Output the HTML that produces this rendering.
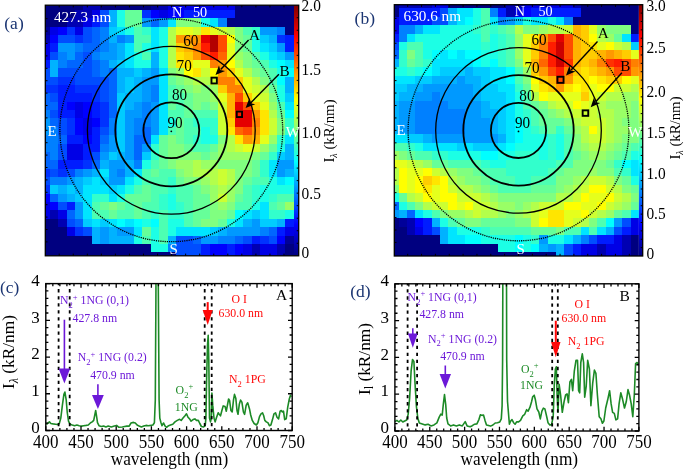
<!DOCTYPE html><html><head><meta charset="utf-8"><style>html,body{margin:0;padding:0;background:#fff;width:685px;height:471px;overflow:hidden}svg{display:block}</style></head><body>
<svg style="will-change:transform" width="685" height="471" viewBox="0 0 685 471" font-family="'Liberation Serif', serif">
<defs>
<filter id="hb" x="-5%" y="-5%" width="110%" height="110%"><feGaussianBlur stdDeviation="0.6"/></filter>
<clipPath id="ca"><rect x="45.3" y="5.2" width="248.7" height="250.6"/></clipPath>
<clipPath id="cb"><rect x="394.3" y="4.7" width="244.6" height="251.3"/></clipPath>
<linearGradient id="cbg" x1="0" y1="0" x2="0" y2="1"><stop offset="0.000" stop-color="#800000"/><stop offset="0.025" stop-color="#990000"/><stop offset="0.050" stop-color="#b30000"/><stop offset="0.075" stop-color="#cc0000"/><stop offset="0.100" stop-color="#e50000"/><stop offset="0.125" stop-color="#ff0000"/><stop offset="0.150" stop-color="#ff1a00"/><stop offset="0.175" stop-color="#ff3300"/><stop offset="0.200" stop-color="#ff4c00"/><stop offset="0.225" stop-color="#ff6600"/><stop offset="0.250" stop-color="#ff8000"/><stop offset="0.275" stop-color="#ff9900"/><stop offset="0.300" stop-color="#ffb300"/><stop offset="0.325" stop-color="#ffcc00"/><stop offset="0.350" stop-color="#ffe500"/><stop offset="0.375" stop-color="#ffff00"/><stop offset="0.400" stop-color="#e5ff1a"/><stop offset="0.425" stop-color="#ccff33"/><stop offset="0.450" stop-color="#b3ff4c"/><stop offset="0.475" stop-color="#99ff66"/><stop offset="0.500" stop-color="#80ff80"/><stop offset="0.525" stop-color="#66ff99"/><stop offset="0.550" stop-color="#4dffb2"/><stop offset="0.575" stop-color="#33ffcc"/><stop offset="0.600" stop-color="#1affe5"/><stop offset="0.625" stop-color="#00ffff"/><stop offset="0.650" stop-color="#00e5ff"/><stop offset="0.675" stop-color="#00ccff"/><stop offset="0.700" stop-color="#00b2ff"/><stop offset="0.725" stop-color="#0099ff"/><stop offset="0.750" stop-color="#0080ff"/><stop offset="0.775" stop-color="#0066ff"/><stop offset="0.800" stop-color="#004dff"/><stop offset="0.825" stop-color="#0033ff"/><stop offset="0.850" stop-color="#001aff"/><stop offset="0.875" stop-color="#0000ff"/><stop offset="0.900" stop-color="#0000e6"/><stop offset="0.925" stop-color="#0000cc"/><stop offset="0.950" stop-color="#0000b2"/><stop offset="0.975" stop-color="#000099"/><stop offset="1.000" stop-color="#000080"/></linearGradient>
<clipPath id="cc"><rect x="45.8" y="283.8" width="245.9" height="146.7"/></clipPath>
<clipPath id="cd"><rect x="394.2" y="283.8" width="244.5" height="145.4"/></clipPath>
</defs>
<g clip-path="url(#ca)"><g filter="url(#hb)" shape-rendering="crispEdges">
<rect x="41.28" y="1.42" width="42.50" height="8.76" fill="#000080"/>
<rect x="83.38" y="1.42" width="17.24" height="8.76" fill="#0000b2"/>
<rect x="100.22" y="1.42" width="50.92" height="8.76" fill="#000080"/>
<rect x="150.74" y="1.42" width="8.82" height="8.76" fill="#000099"/>
<rect x="159.16" y="1.42" width="8.82" height="8.76" fill="#0000b2"/>
<rect x="167.58" y="1.42" width="67.76" height="8.76" fill="#0000e6"/>
<rect x="234.94" y="1.42" width="62.34" height="8.76" fill="#000080"/>
<rect x="41.28" y="9.78" width="34.08" height="8.76" fill="#000080"/>
<rect x="74.96" y="9.78" width="17.24" height="8.76" fill="#0000b2"/>
<rect x="91.80" y="9.78" width="8.82" height="8.76" fill="#0000e6"/>
<rect x="100.22" y="9.78" width="8.82" height="8.76" fill="#004dff"/>
<rect x="108.64" y="9.78" width="8.82" height="8.76" fill="#00b2ff"/>
<rect x="117.06" y="9.78" width="8.82" height="8.76" fill="#1affe5"/>
<rect x="125.48" y="9.78" width="17.24" height="8.76" fill="#66ff99"/>
<rect x="142.32" y="9.78" width="8.82" height="8.76" fill="#0033ff"/>
<rect x="150.74" y="9.78" width="8.82" height="8.76" fill="#0000ff"/>
<rect x="159.16" y="9.78" width="8.82" height="8.76" fill="#0000e6"/>
<rect x="167.58" y="9.78" width="17.24" height="8.76" fill="#0000ff"/>
<rect x="184.42" y="9.78" width="50.92" height="8.76" fill="#001aff"/>
<rect x="234.94" y="9.78" width="62.34" height="8.76" fill="#000080"/>
<rect x="41.28" y="18.14" width="25.66" height="8.76" fill="#000080"/>
<rect x="66.54" y="18.14" width="17.24" height="8.76" fill="#0000b2"/>
<rect x="83.38" y="18.14" width="8.82" height="8.76" fill="#0000e6"/>
<rect x="91.80" y="18.14" width="8.82" height="8.76" fill="#001aff"/>
<rect x="100.22" y="18.14" width="8.82" height="8.76" fill="#004dff"/>
<rect x="108.64" y="18.14" width="8.82" height="8.76" fill="#00b2ff"/>
<rect x="117.06" y="18.14" width="8.82" height="8.76" fill="#1affe5"/>
<rect x="125.48" y="18.14" width="17.24" height="8.76" fill="#66ff99"/>
<rect x="142.32" y="18.14" width="8.82" height="8.76" fill="#0099ff"/>
<rect x="150.74" y="18.14" width="8.82" height="8.76" fill="#0066ff"/>
<rect x="159.16" y="18.14" width="8.82" height="8.76" fill="#0099ff"/>
<rect x="167.58" y="18.14" width="8.82" height="8.76" fill="#00e5ff"/>
<rect x="176.00" y="18.14" width="25.66" height="8.76" fill="#80ff80"/>
<rect x="201.26" y="18.14" width="8.82" height="8.76" fill="#1affe5"/>
<rect x="209.68" y="18.14" width="8.82" height="8.76" fill="#00e5ff"/>
<rect x="218.10" y="18.14" width="8.82" height="8.76" fill="#0080ff"/>
<rect x="226.52" y="18.14" width="70.76" height="8.76" fill="#000080"/>
<rect x="41.28" y="26.50" width="8.82" height="8.76" fill="#000099"/>
<rect x="49.70" y="26.50" width="8.82" height="8.76" fill="#0000e6"/>
<rect x="58.12" y="26.50" width="8.82" height="8.76" fill="#0000ff"/>
<rect x="66.54" y="26.50" width="8.82" height="8.76" fill="#0033ff"/>
<rect x="74.96" y="26.50" width="8.82" height="8.76" fill="#0000e6"/>
<rect x="83.38" y="26.50" width="8.82" height="8.76" fill="#004dff"/>
<rect x="91.80" y="26.50" width="8.82" height="8.76" fill="#0066ff"/>
<rect x="100.22" y="26.50" width="8.82" height="8.76" fill="#0080ff"/>
<rect x="108.64" y="26.50" width="8.82" height="8.76" fill="#00ccff"/>
<rect x="117.06" y="26.50" width="8.82" height="8.76" fill="#00e5ff"/>
<rect x="125.48" y="26.50" width="8.82" height="8.76" fill="#1affe5"/>
<rect x="133.90" y="26.50" width="8.82" height="8.76" fill="#4dffb2"/>
<rect x="142.32" y="26.50" width="8.82" height="8.76" fill="#33ffcc"/>
<rect x="150.74" y="26.50" width="8.82" height="8.76" fill="#00e5ff"/>
<rect x="159.16" y="26.50" width="8.82" height="8.76" fill="#1affe5"/>
<rect x="167.58" y="26.50" width="8.82" height="8.76" fill="#b3ff4c"/>
<rect x="176.00" y="26.50" width="17.24" height="8.76" fill="#e5ff1a"/>
<rect x="192.84" y="26.50" width="8.82" height="8.76" fill="#ccff33"/>
<rect x="201.26" y="26.50" width="8.82" height="8.76" fill="#ffe500"/>
<rect x="209.68" y="26.50" width="8.82" height="8.76" fill="#e5ff1a"/>
<rect x="218.10" y="26.50" width="8.82" height="8.76" fill="#ccff33"/>
<rect x="226.52" y="26.50" width="8.82" height="8.76" fill="#b3ff4c"/>
<rect x="234.94" y="26.50" width="8.82" height="8.76" fill="#80ff80"/>
<rect x="243.36" y="26.50" width="8.82" height="8.76" fill="#4dffb2"/>
<rect x="251.78" y="26.50" width="8.82" height="8.76" fill="#33ffcc"/>
<rect x="260.20" y="26.50" width="17.24" height="8.76" fill="#0099ff"/>
<rect x="277.04" y="26.50" width="8.82" height="8.76" fill="#0080ff"/>
<rect x="285.46" y="26.50" width="11.82" height="8.76" fill="#000080"/>
<rect x="41.28" y="34.86" width="8.82" height="8.76" fill="#0000b2"/>
<rect x="49.70" y="34.86" width="8.82" height="8.76" fill="#0000ff"/>
<rect x="58.12" y="34.86" width="17.24" height="8.76" fill="#004dff"/>
<rect x="74.96" y="34.86" width="8.82" height="8.76" fill="#0033ff"/>
<rect x="83.38" y="34.86" width="8.82" height="8.76" fill="#004dff"/>
<rect x="91.80" y="34.86" width="8.82" height="8.76" fill="#0066ff"/>
<rect x="100.22" y="34.86" width="8.82" height="8.76" fill="#0080ff"/>
<rect x="108.64" y="34.86" width="8.82" height="8.76" fill="#00b2ff"/>
<rect x="117.06" y="34.86" width="8.82" height="8.76" fill="#0080ff"/>
<rect x="125.48" y="34.86" width="8.82" height="8.76" fill="#0099ff"/>
<rect x="133.90" y="34.86" width="17.24" height="8.76" fill="#4dffb2"/>
<rect x="150.74" y="34.86" width="8.82" height="8.76" fill="#00e5ff"/>
<rect x="159.16" y="34.86" width="8.82" height="8.76" fill="#1affe5"/>
<rect x="167.58" y="34.86" width="8.82" height="8.76" fill="#b3ff4c"/>
<rect x="176.00" y="34.86" width="25.66" height="8.76" fill="#ff9900"/>
<rect x="201.26" y="34.86" width="8.82" height="8.76" fill="#e50000"/>
<rect x="209.68" y="34.86" width="8.82" height="8.76" fill="#b30000"/>
<rect x="218.10" y="34.86" width="8.82" height="8.76" fill="#ff4c00"/>
<rect x="226.52" y="34.86" width="8.82" height="8.76" fill="#ffff00"/>
<rect x="234.94" y="34.86" width="8.82" height="8.76" fill="#80ff80"/>
<rect x="243.36" y="34.86" width="8.82" height="8.76" fill="#66ff99"/>
<rect x="251.78" y="34.86" width="8.82" height="8.76" fill="#1affe5"/>
<rect x="260.20" y="34.86" width="8.82" height="8.76" fill="#00ccff"/>
<rect x="268.62" y="34.86" width="8.82" height="8.76" fill="#00b2ff"/>
<rect x="277.04" y="34.86" width="8.82" height="8.76" fill="#0033ff"/>
<rect x="285.46" y="34.86" width="11.82" height="8.76" fill="#001aff"/>
<rect x="41.28" y="43.22" width="8.82" height="8.76" fill="#0000e6"/>
<rect x="49.70" y="43.22" width="8.82" height="8.76" fill="#001aff"/>
<rect x="58.12" y="43.22" width="17.24" height="8.76" fill="#0099ff"/>
<rect x="74.96" y="43.22" width="8.82" height="8.76" fill="#0080ff"/>
<rect x="83.38" y="43.22" width="17.24" height="8.76" fill="#0066ff"/>
<rect x="100.22" y="43.22" width="8.82" height="8.76" fill="#0080ff"/>
<rect x="108.64" y="43.22" width="8.82" height="8.76" fill="#0099ff"/>
<rect x="117.06" y="43.22" width="8.82" height="8.76" fill="#00b2ff"/>
<rect x="125.48" y="43.22" width="8.82" height="8.76" fill="#00e5ff"/>
<rect x="133.90" y="43.22" width="8.82" height="8.76" fill="#4dffb2"/>
<rect x="142.32" y="43.22" width="8.82" height="8.76" fill="#1affe5"/>
<rect x="150.74" y="43.22" width="8.82" height="8.76" fill="#00e5ff"/>
<rect x="159.16" y="43.22" width="8.82" height="8.76" fill="#1affe5"/>
<rect x="167.58" y="43.22" width="8.82" height="8.76" fill="#b3ff4c"/>
<rect x="176.00" y="43.22" width="8.82" height="8.76" fill="#ffcc00"/>
<rect x="184.42" y="43.22" width="8.82" height="8.76" fill="#ffb300"/>
<rect x="192.84" y="43.22" width="8.82" height="8.76" fill="#ff8000"/>
<rect x="201.26" y="43.22" width="8.82" height="8.76" fill="#ff1a00"/>
<rect x="209.68" y="43.22" width="8.82" height="8.76" fill="#b30000"/>
<rect x="218.10" y="43.22" width="8.82" height="8.76" fill="#ff4c00"/>
<rect x="226.52" y="43.22" width="8.82" height="8.76" fill="#e5ff1a"/>
<rect x="234.94" y="43.22" width="8.82" height="8.76" fill="#80ff80"/>
<rect x="243.36" y="43.22" width="8.82" height="8.76" fill="#66ff99"/>
<rect x="251.78" y="43.22" width="8.82" height="8.76" fill="#1affe5"/>
<rect x="260.20" y="43.22" width="8.82" height="8.76" fill="#00e5ff"/>
<rect x="268.62" y="43.22" width="8.82" height="8.76" fill="#00ccff"/>
<rect x="277.04" y="43.22" width="8.82" height="8.76" fill="#0099ff"/>
<rect x="285.46" y="43.22" width="11.82" height="8.76" fill="#001aff"/>
<rect x="41.28" y="51.58" width="8.82" height="8.76" fill="#0000e6"/>
<rect x="49.70" y="51.58" width="8.82" height="8.76" fill="#004dff"/>
<rect x="58.12" y="51.58" width="8.82" height="8.76" fill="#0080ff"/>
<rect x="66.54" y="51.58" width="8.82" height="8.76" fill="#0099ff"/>
<rect x="74.96" y="51.58" width="8.82" height="8.76" fill="#0066ff"/>
<rect x="83.38" y="51.58" width="8.82" height="8.76" fill="#004dff"/>
<rect x="91.80" y="51.58" width="8.82" height="8.76" fill="#0080ff"/>
<rect x="100.22" y="51.58" width="17.24" height="8.76" fill="#0099ff"/>
<rect x="117.06" y="51.58" width="8.82" height="8.76" fill="#00b2ff"/>
<rect x="125.48" y="51.58" width="8.82" height="8.76" fill="#00e5ff"/>
<rect x="133.90" y="51.58" width="8.82" height="8.76" fill="#1affe5"/>
<rect x="142.32" y="51.58" width="8.82" height="8.76" fill="#4dffb2"/>
<rect x="150.74" y="51.58" width="8.82" height="8.76" fill="#00b2ff"/>
<rect x="159.16" y="51.58" width="8.82" height="8.76" fill="#1affe5"/>
<rect x="167.58" y="51.58" width="8.82" height="8.76" fill="#b3ff4c"/>
<rect x="176.00" y="51.58" width="8.82" height="8.76" fill="#ffe500"/>
<rect x="184.42" y="51.58" width="8.82" height="8.76" fill="#ffcc00"/>
<rect x="192.84" y="51.58" width="8.82" height="8.76" fill="#ff9900"/>
<rect x="201.26" y="51.58" width="8.82" height="8.76" fill="#ff4c00"/>
<rect x="209.68" y="51.58" width="8.82" height="8.76" fill="#ff1a00"/>
<rect x="218.10" y="51.58" width="8.82" height="8.76" fill="#ff6600"/>
<rect x="226.52" y="51.58" width="8.82" height="8.76" fill="#e5ff1a"/>
<rect x="234.94" y="51.58" width="8.82" height="8.76" fill="#99ff66"/>
<rect x="243.36" y="51.58" width="8.82" height="8.76" fill="#80ff80"/>
<rect x="251.78" y="51.58" width="8.82" height="8.76" fill="#4dffb2"/>
<rect x="260.20" y="51.58" width="8.82" height="8.76" fill="#1affe5"/>
<rect x="268.62" y="51.58" width="8.82" height="8.76" fill="#00e5ff"/>
<rect x="277.04" y="51.58" width="8.82" height="8.76" fill="#00ccff"/>
<rect x="285.46" y="51.58" width="11.82" height="8.76" fill="#0099ff"/>
<rect x="41.28" y="59.94" width="8.82" height="8.76" fill="#001aff"/>
<rect x="49.70" y="59.94" width="8.82" height="8.76" fill="#00b2ff"/>
<rect x="58.12" y="59.94" width="8.82" height="8.76" fill="#0080ff"/>
<rect x="66.54" y="59.94" width="17.24" height="8.76" fill="#0066ff"/>
<rect x="83.38" y="59.94" width="8.82" height="8.76" fill="#004dff"/>
<rect x="91.80" y="59.94" width="8.82" height="8.76" fill="#0066ff"/>
<rect x="100.22" y="59.94" width="8.82" height="8.76" fill="#0080ff"/>
<rect x="108.64" y="59.94" width="8.82" height="8.76" fill="#00b2ff"/>
<rect x="117.06" y="59.94" width="8.82" height="8.76" fill="#00ccff"/>
<rect x="125.48" y="59.94" width="8.82" height="8.76" fill="#00e5ff"/>
<rect x="133.90" y="59.94" width="17.24" height="8.76" fill="#1affe5"/>
<rect x="150.74" y="59.94" width="8.82" height="8.76" fill="#00b2ff"/>
<rect x="159.16" y="59.94" width="8.82" height="8.76" fill="#1affe5"/>
<rect x="167.58" y="59.94" width="8.82" height="8.76" fill="#b3ff4c"/>
<rect x="176.00" y="59.94" width="17.24" height="8.76" fill="#ffe500"/>
<rect x="192.84" y="59.94" width="17.24" height="8.76" fill="#e5ff1a"/>
<rect x="209.68" y="59.94" width="8.82" height="8.76" fill="#ff8000"/>
<rect x="218.10" y="59.94" width="8.82" height="8.76" fill="#ff9900"/>
<rect x="226.52" y="59.94" width="8.82" height="8.76" fill="#ffff00"/>
<rect x="234.94" y="59.94" width="8.82" height="8.76" fill="#b3ff4c"/>
<rect x="243.36" y="59.94" width="8.82" height="8.76" fill="#80ff80"/>
<rect x="251.78" y="59.94" width="8.82" height="8.76" fill="#66ff99"/>
<rect x="260.20" y="59.94" width="8.82" height="8.76" fill="#4dffb2"/>
<rect x="268.62" y="59.94" width="8.82" height="8.76" fill="#1affe5"/>
<rect x="277.04" y="59.94" width="8.82" height="8.76" fill="#00ffff"/>
<rect x="285.46" y="59.94" width="11.82" height="8.76" fill="#00e5ff"/>
<rect x="41.28" y="68.30" width="8.82" height="8.76" fill="#004dff"/>
<rect x="49.70" y="68.30" width="8.82" height="8.76" fill="#00b2ff"/>
<rect x="58.12" y="68.30" width="34.08" height="8.76" fill="#004dff"/>
<rect x="91.80" y="68.30" width="8.82" height="8.76" fill="#0066ff"/>
<rect x="100.22" y="68.30" width="8.82" height="8.76" fill="#0080ff"/>
<rect x="108.64" y="68.30" width="8.82" height="8.76" fill="#0066ff"/>
<rect x="117.06" y="68.30" width="17.24" height="8.76" fill="#00b2ff"/>
<rect x="133.90" y="68.30" width="8.82" height="8.76" fill="#00ccff"/>
<rect x="142.32" y="68.30" width="8.82" height="8.76" fill="#00b2ff"/>
<rect x="150.74" y="68.30" width="8.82" height="8.76" fill="#0099ff"/>
<rect x="159.16" y="68.30" width="8.82" height="8.76" fill="#00e5ff"/>
<rect x="167.58" y="68.30" width="8.82" height="8.76" fill="#80ff80"/>
<rect x="176.00" y="68.30" width="8.82" height="8.76" fill="#99ff66"/>
<rect x="184.42" y="68.30" width="8.82" height="8.76" fill="#ffff00"/>
<rect x="192.84" y="68.30" width="8.82" height="8.76" fill="#ffe500"/>
<rect x="201.26" y="68.30" width="8.82" height="8.76" fill="#ccff33"/>
<rect x="209.68" y="68.30" width="8.82" height="8.76" fill="#ffff00"/>
<rect x="218.10" y="68.30" width="8.82" height="8.76" fill="#ff9900"/>
<rect x="226.52" y="68.30" width="8.82" height="8.76" fill="#ffcc00"/>
<rect x="234.94" y="68.30" width="8.82" height="8.76" fill="#e5ff1a"/>
<rect x="243.36" y="68.30" width="8.82" height="8.76" fill="#b3ff4c"/>
<rect x="251.78" y="68.30" width="8.82" height="8.76" fill="#80ff80"/>
<rect x="260.20" y="68.30" width="8.82" height="8.76" fill="#66ff99"/>
<rect x="268.62" y="68.30" width="8.82" height="8.76" fill="#4dffb2"/>
<rect x="277.04" y="68.30" width="8.82" height="8.76" fill="#1affe5"/>
<rect x="285.46" y="68.30" width="11.82" height="8.76" fill="#00ffff"/>
<rect x="41.28" y="76.66" width="17.24" height="8.76" fill="#004dff"/>
<rect x="58.12" y="76.66" width="17.24" height="8.76" fill="#0033ff"/>
<rect x="74.96" y="76.66" width="34.08" height="8.76" fill="#004dff"/>
<rect x="108.64" y="76.66" width="8.82" height="8.76" fill="#0066ff"/>
<rect x="117.06" y="76.66" width="8.82" height="8.76" fill="#00b2ff"/>
<rect x="125.48" y="76.66" width="8.82" height="8.76" fill="#00ccff"/>
<rect x="133.90" y="76.66" width="8.82" height="8.76" fill="#00b2ff"/>
<rect x="142.32" y="76.66" width="17.24" height="8.76" fill="#0099ff"/>
<rect x="159.16" y="76.66" width="8.82" height="8.76" fill="#00e5ff"/>
<rect x="167.58" y="76.66" width="8.82" height="8.76" fill="#66ff99"/>
<rect x="176.00" y="76.66" width="8.82" height="8.76" fill="#80ff80"/>
<rect x="184.42" y="76.66" width="8.82" height="8.76" fill="#99ff66"/>
<rect x="192.84" y="76.66" width="17.24" height="8.76" fill="#b3ff4c"/>
<rect x="209.68" y="76.66" width="8.82" height="8.76" fill="#ccff33"/>
<rect x="218.10" y="76.66" width="17.24" height="8.76" fill="#ff8000"/>
<rect x="234.94" y="76.66" width="8.82" height="8.76" fill="#ffcc00"/>
<rect x="243.36" y="76.66" width="8.82" height="8.76" fill="#e5ff1a"/>
<rect x="251.78" y="76.66" width="8.82" height="8.76" fill="#b3ff4c"/>
<rect x="260.20" y="76.66" width="8.82" height="8.76" fill="#80ff80"/>
<rect x="268.62" y="76.66" width="8.82" height="8.76" fill="#4dffb2"/>
<rect x="277.04" y="76.66" width="8.82" height="8.76" fill="#00ffff"/>
<rect x="285.46" y="76.66" width="11.82" height="8.76" fill="#00b2ff"/>
<rect x="41.28" y="85.02" width="17.24" height="8.76" fill="#0033ff"/>
<rect x="58.12" y="85.02" width="17.24" height="8.76" fill="#001aff"/>
<rect x="74.96" y="85.02" width="25.66" height="8.76" fill="#0033ff"/>
<rect x="100.22" y="85.02" width="8.82" height="8.76" fill="#004dff"/>
<rect x="108.64" y="85.02" width="8.82" height="8.76" fill="#0066ff"/>
<rect x="117.06" y="85.02" width="8.82" height="8.76" fill="#00b2ff"/>
<rect x="125.48" y="85.02" width="8.82" height="8.76" fill="#00ccff"/>
<rect x="133.90" y="85.02" width="8.82" height="8.76" fill="#00b2ff"/>
<rect x="142.32" y="85.02" width="8.82" height="8.76" fill="#0099ff"/>
<rect x="150.74" y="85.02" width="8.82" height="8.76" fill="#0080ff"/>
<rect x="159.16" y="85.02" width="8.82" height="8.76" fill="#00e5ff"/>
<rect x="167.58" y="85.02" width="8.82" height="8.76" fill="#4dffb2"/>
<rect x="176.00" y="85.02" width="8.82" height="8.76" fill="#66ff99"/>
<rect x="184.42" y="85.02" width="8.82" height="8.76" fill="#80ff80"/>
<rect x="192.84" y="85.02" width="8.82" height="8.76" fill="#99ff66"/>
<rect x="201.26" y="85.02" width="8.82" height="8.76" fill="#80ff80"/>
<rect x="209.68" y="85.02" width="8.82" height="8.76" fill="#99ff66"/>
<rect x="218.10" y="85.02" width="8.82" height="8.76" fill="#ffcc00"/>
<rect x="226.52" y="85.02" width="17.24" height="8.76" fill="#ff8000"/>
<rect x="243.36" y="85.02" width="8.82" height="8.76" fill="#e5ff1a"/>
<rect x="251.78" y="85.02" width="8.82" height="8.76" fill="#ccff33"/>
<rect x="260.20" y="85.02" width="8.82" height="8.76" fill="#b3ff4c"/>
<rect x="268.62" y="85.02" width="8.82" height="8.76" fill="#66ff99"/>
<rect x="277.04" y="85.02" width="8.82" height="8.76" fill="#1affe5"/>
<rect x="285.46" y="85.02" width="11.82" height="8.76" fill="#00b2ff"/>
<rect x="41.28" y="93.38" width="8.82" height="8.76" fill="#0066ff"/>
<rect x="49.70" y="93.38" width="8.82" height="8.76" fill="#004dff"/>
<rect x="58.12" y="93.38" width="34.08" height="8.76" fill="#001aff"/>
<rect x="91.80" y="93.38" width="8.82" height="8.76" fill="#0033ff"/>
<rect x="100.22" y="93.38" width="8.82" height="8.76" fill="#004dff"/>
<rect x="108.64" y="93.38" width="8.82" height="8.76" fill="#0066ff"/>
<rect x="117.06" y="93.38" width="8.82" height="8.76" fill="#00ccff"/>
<rect x="125.48" y="93.38" width="17.24" height="8.76" fill="#00b2ff"/>
<rect x="142.32" y="93.38" width="8.82" height="8.76" fill="#0099ff"/>
<rect x="150.74" y="93.38" width="8.82" height="8.76" fill="#0080ff"/>
<rect x="159.16" y="93.38" width="8.82" height="8.76" fill="#00e5ff"/>
<rect x="167.58" y="93.38" width="17.24" height="8.76" fill="#4dffb2"/>
<rect x="184.42" y="93.38" width="8.82" height="8.76" fill="#66ff99"/>
<rect x="192.84" y="93.38" width="17.24" height="8.76" fill="#80ff80"/>
<rect x="209.68" y="93.38" width="8.82" height="8.76" fill="#99ff66"/>
<rect x="218.10" y="93.38" width="8.82" height="8.76" fill="#e5ff1a"/>
<rect x="226.52" y="93.38" width="8.82" height="8.76" fill="#ffb300"/>
<rect x="234.94" y="93.38" width="8.82" height="8.76" fill="#ff4c00"/>
<rect x="243.36" y="93.38" width="8.82" height="8.76" fill="#ffcc00"/>
<rect x="251.78" y="93.38" width="8.82" height="8.76" fill="#e5ff1a"/>
<rect x="260.20" y="93.38" width="8.82" height="8.76" fill="#ccff33"/>
<rect x="268.62" y="93.38" width="8.82" height="8.76" fill="#80ff80"/>
<rect x="277.04" y="93.38" width="8.82" height="8.76" fill="#1affe5"/>
<rect x="285.46" y="93.38" width="11.82" height="8.76" fill="#00ccff"/>
<rect x="41.28" y="101.74" width="17.24" height="8.76" fill="#0066ff"/>
<rect x="58.12" y="101.74" width="8.82" height="8.76" fill="#001aff"/>
<rect x="66.54" y="101.74" width="8.82" height="8.76" fill="#0000ff"/>
<rect x="74.96" y="101.74" width="8.82" height="8.76" fill="#0000e6"/>
<rect x="83.38" y="101.74" width="8.82" height="8.76" fill="#0000ff"/>
<rect x="91.80" y="101.74" width="8.82" height="8.76" fill="#001aff"/>
<rect x="100.22" y="101.74" width="8.82" height="8.76" fill="#0033ff"/>
<rect x="108.64" y="101.74" width="8.82" height="8.76" fill="#0066ff"/>
<rect x="117.06" y="101.74" width="8.82" height="8.76" fill="#00ccff"/>
<rect x="125.48" y="101.74" width="8.82" height="8.76" fill="#00b2ff"/>
<rect x="133.90" y="101.74" width="8.82" height="8.76" fill="#0099ff"/>
<rect x="142.32" y="101.74" width="8.82" height="8.76" fill="#0080ff"/>
<rect x="150.74" y="101.74" width="8.82" height="8.76" fill="#0099ff"/>
<rect x="159.16" y="101.74" width="8.82" height="8.76" fill="#00e5ff"/>
<rect x="167.58" y="101.74" width="8.82" height="8.76" fill="#66ff99"/>
<rect x="176.00" y="101.74" width="8.82" height="8.76" fill="#4dffb2"/>
<rect x="184.42" y="101.74" width="8.82" height="8.76" fill="#66ff99"/>
<rect x="192.84" y="101.74" width="8.82" height="8.76" fill="#80ff80"/>
<rect x="201.26" y="101.74" width="8.82" height="8.76" fill="#66ff99"/>
<rect x="209.68" y="101.74" width="8.82" height="8.76" fill="#80ff80"/>
<rect x="218.10" y="101.74" width="8.82" height="8.76" fill="#ccff33"/>
<rect x="226.52" y="101.74" width="8.82" height="8.76" fill="#ffb300"/>
<rect x="234.94" y="101.74" width="8.82" height="8.76" fill="#e50000"/>
<rect x="243.36" y="101.74" width="8.82" height="8.76" fill="#ff4c00"/>
<rect x="251.78" y="101.74" width="8.82" height="8.76" fill="#ffcc00"/>
<rect x="260.20" y="101.74" width="8.82" height="8.76" fill="#e5ff1a"/>
<rect x="268.62" y="101.74" width="8.82" height="8.76" fill="#99ff66"/>
<rect x="277.04" y="101.74" width="8.82" height="8.76" fill="#4dffb2"/>
<rect x="285.46" y="101.74" width="11.82" height="8.76" fill="#00e5ff"/>
<rect x="41.28" y="110.10" width="8.82" height="8.76" fill="#0080ff"/>
<rect x="49.70" y="110.10" width="8.82" height="8.76" fill="#004dff"/>
<rect x="58.12" y="110.10" width="17.24" height="8.76" fill="#001aff"/>
<rect x="74.96" y="110.10" width="8.82" height="8.76" fill="#0000e6"/>
<rect x="83.38" y="110.10" width="8.82" height="8.76" fill="#0000ff"/>
<rect x="91.80" y="110.10" width="8.82" height="8.76" fill="#001aff"/>
<rect x="100.22" y="110.10" width="8.82" height="8.76" fill="#0033ff"/>
<rect x="108.64" y="110.10" width="8.82" height="8.76" fill="#0066ff"/>
<rect x="117.06" y="110.10" width="8.82" height="8.76" fill="#00ccff"/>
<rect x="125.48" y="110.10" width="17.24" height="8.76" fill="#0099ff"/>
<rect x="142.32" y="110.10" width="8.82" height="8.76" fill="#0080ff"/>
<rect x="150.74" y="110.10" width="8.82" height="8.76" fill="#0099ff"/>
<rect x="159.16" y="110.10" width="8.82" height="8.76" fill="#00e5ff"/>
<rect x="167.58" y="110.10" width="17.24" height="8.76" fill="#4dffb2"/>
<rect x="184.42" y="110.10" width="8.82" height="8.76" fill="#66ff99"/>
<rect x="192.84" y="110.10" width="25.66" height="8.76" fill="#4dffb2"/>
<rect x="218.10" y="110.10" width="8.82" height="8.76" fill="#ccff33"/>
<rect x="226.52" y="110.10" width="8.82" height="8.76" fill="#ffb300"/>
<rect x="234.94" y="110.10" width="8.82" height="8.76" fill="#ff1a00"/>
<rect x="243.36" y="110.10" width="8.82" height="8.76" fill="#e50000"/>
<rect x="251.78" y="110.10" width="8.82" height="8.76" fill="#ff9900"/>
<rect x="260.20" y="110.10" width="8.82" height="8.76" fill="#ffe500"/>
<rect x="268.62" y="110.10" width="8.82" height="8.76" fill="#b3ff4c"/>
<rect x="277.04" y="110.10" width="8.82" height="8.76" fill="#66ff99"/>
<rect x="285.46" y="110.10" width="11.82" height="8.76" fill="#00ffff"/>
<rect x="41.28" y="118.46" width="8.82" height="8.76" fill="#0099ff"/>
<rect x="49.70" y="118.46" width="8.82" height="8.76" fill="#0066ff"/>
<rect x="58.12" y="118.46" width="8.82" height="8.76" fill="#004dff"/>
<rect x="66.54" y="118.46" width="8.82" height="8.76" fill="#0033ff"/>
<rect x="74.96" y="118.46" width="8.82" height="8.76" fill="#0000ff"/>
<rect x="83.38" y="118.46" width="8.82" height="8.76" fill="#0000e6"/>
<rect x="91.80" y="118.46" width="8.82" height="8.76" fill="#0000ff"/>
<rect x="100.22" y="118.46" width="8.82" height="8.76" fill="#0033ff"/>
<rect x="108.64" y="118.46" width="8.82" height="8.76" fill="#0080ff"/>
<rect x="117.06" y="118.46" width="8.82" height="8.76" fill="#00ccff"/>
<rect x="125.48" y="118.46" width="8.82" height="8.76" fill="#0099ff"/>
<rect x="133.90" y="118.46" width="17.24" height="8.76" fill="#0080ff"/>
<rect x="150.74" y="118.46" width="8.82" height="8.76" fill="#0099ff"/>
<rect x="159.16" y="118.46" width="8.82" height="8.76" fill="#00e5ff"/>
<rect x="167.58" y="118.46" width="8.82" height="8.76" fill="#1affe5"/>
<rect x="176.00" y="118.46" width="8.82" height="8.76" fill="#66ff99"/>
<rect x="184.42" y="118.46" width="8.82" height="8.76" fill="#4dffb2"/>
<rect x="192.84" y="118.46" width="25.66" height="8.76" fill="#33ffcc"/>
<rect x="218.10" y="118.46" width="8.82" height="8.76" fill="#ccff33"/>
<rect x="226.52" y="118.46" width="8.82" height="8.76" fill="#ffcc00"/>
<rect x="234.94" y="118.46" width="17.24" height="8.76" fill="#e50000"/>
<rect x="251.78" y="118.46" width="8.82" height="8.76" fill="#ff8000"/>
<rect x="260.20" y="118.46" width="8.82" height="8.76" fill="#ffe500"/>
<rect x="268.62" y="118.46" width="8.82" height="8.76" fill="#ccff33"/>
<rect x="277.04" y="118.46" width="8.82" height="8.76" fill="#80ff80"/>
<rect x="285.46" y="118.46" width="11.82" height="8.76" fill="#33ffcc"/>
<rect x="41.28" y="126.82" width="8.82" height="8.76" fill="#0099ff"/>
<rect x="49.70" y="126.82" width="8.82" height="8.76" fill="#0080ff"/>
<rect x="58.12" y="126.82" width="8.82" height="8.76" fill="#004dff"/>
<rect x="66.54" y="126.82" width="8.82" height="8.76" fill="#0033ff"/>
<rect x="74.96" y="126.82" width="8.82" height="8.76" fill="#0000ff"/>
<rect x="83.38" y="126.82" width="8.82" height="8.76" fill="#0000e6"/>
<rect x="91.80" y="126.82" width="8.82" height="8.76" fill="#001aff"/>
<rect x="100.22" y="126.82" width="8.82" height="8.76" fill="#004dff"/>
<rect x="108.64" y="126.82" width="8.82" height="8.76" fill="#0080ff"/>
<rect x="117.06" y="126.82" width="8.82" height="8.76" fill="#00ccff"/>
<rect x="125.48" y="126.82" width="8.82" height="8.76" fill="#0099ff"/>
<rect x="133.90" y="126.82" width="8.82" height="8.76" fill="#0080ff"/>
<rect x="142.32" y="126.82" width="8.82" height="8.76" fill="#0066ff"/>
<rect x="150.74" y="126.82" width="8.82" height="8.76" fill="#0099ff"/>
<rect x="159.16" y="126.82" width="8.82" height="8.76" fill="#00e5ff"/>
<rect x="167.58" y="126.82" width="8.82" height="8.76" fill="#4dffb2"/>
<rect x="176.00" y="126.82" width="8.82" height="8.76" fill="#66ff99"/>
<rect x="184.42" y="126.82" width="17.24" height="8.76" fill="#4dffb2"/>
<rect x="201.26" y="126.82" width="8.82" height="8.76" fill="#1affe5"/>
<rect x="209.68" y="126.82" width="8.82" height="8.76" fill="#33ffcc"/>
<rect x="218.10" y="126.82" width="8.82" height="8.76" fill="#ccff33"/>
<rect x="226.52" y="126.82" width="8.82" height="8.76" fill="#ffe500"/>
<rect x="234.94" y="126.82" width="8.82" height="8.76" fill="#ff6600"/>
<rect x="243.36" y="126.82" width="8.82" height="8.76" fill="#ff4c00"/>
<rect x="251.78" y="126.82" width="8.82" height="8.76" fill="#ff9900"/>
<rect x="260.20" y="126.82" width="8.82" height="8.76" fill="#ffe500"/>
<rect x="268.62" y="126.82" width="8.82" height="8.76" fill="#ccff33"/>
<rect x="277.04" y="126.82" width="8.82" height="8.76" fill="#80ff80"/>
<rect x="285.46" y="126.82" width="11.82" height="8.76" fill="#33ffcc"/>
<rect x="41.28" y="135.18" width="17.24" height="8.76" fill="#0080ff"/>
<rect x="58.12" y="135.18" width="8.82" height="8.76" fill="#0066ff"/>
<rect x="66.54" y="135.18" width="17.24" height="8.76" fill="#001aff"/>
<rect x="83.38" y="135.18" width="8.82" height="8.76" fill="#0000ff"/>
<rect x="91.80" y="135.18" width="8.82" height="8.76" fill="#001aff"/>
<rect x="100.22" y="135.18" width="8.82" height="8.76" fill="#0066ff"/>
<rect x="108.64" y="135.18" width="8.82" height="8.76" fill="#0099ff"/>
<rect x="117.06" y="135.18" width="8.82" height="8.76" fill="#00ccff"/>
<rect x="125.48" y="135.18" width="8.82" height="8.76" fill="#0099ff"/>
<rect x="133.90" y="135.18" width="17.24" height="8.76" fill="#0066ff"/>
<rect x="150.74" y="135.18" width="8.82" height="8.76" fill="#00e5ff"/>
<rect x="159.16" y="135.18" width="8.82" height="8.76" fill="#66ff99"/>
<rect x="167.58" y="135.18" width="8.82" height="8.76" fill="#80ff80"/>
<rect x="176.00" y="135.18" width="8.82" height="8.76" fill="#66ff99"/>
<rect x="184.42" y="135.18" width="8.82" height="8.76" fill="#4dffb2"/>
<rect x="192.84" y="135.18" width="8.82" height="8.76" fill="#33ffcc"/>
<rect x="201.26" y="135.18" width="17.24" height="8.76" fill="#1affe5"/>
<rect x="218.10" y="135.18" width="8.82" height="8.76" fill="#80ff80"/>
<rect x="226.52" y="135.18" width="8.82" height="8.76" fill="#b3ff4c"/>
<rect x="234.94" y="135.18" width="8.82" height="8.76" fill="#ffe500"/>
<rect x="243.36" y="135.18" width="8.82" height="8.76" fill="#ff9900"/>
<rect x="251.78" y="135.18" width="8.82" height="8.76" fill="#ffb300"/>
<rect x="260.20" y="135.18" width="8.82" height="8.76" fill="#e5ff1a"/>
<rect x="268.62" y="135.18" width="8.82" height="8.76" fill="#99ff66"/>
<rect x="277.04" y="135.18" width="8.82" height="8.76" fill="#33ffcc"/>
<rect x="285.46" y="135.18" width="11.82" height="8.76" fill="#00e5ff"/>
<rect x="41.28" y="143.54" width="17.24" height="8.76" fill="#0080ff"/>
<rect x="58.12" y="143.54" width="8.82" height="8.76" fill="#004dff"/>
<rect x="66.54" y="143.54" width="17.24" height="8.76" fill="#0000e6"/>
<rect x="83.38" y="143.54" width="17.24" height="8.76" fill="#001aff"/>
<rect x="100.22" y="143.54" width="8.82" height="8.76" fill="#0080ff"/>
<rect x="108.64" y="143.54" width="8.82" height="8.76" fill="#0099ff"/>
<rect x="117.06" y="143.54" width="8.82" height="8.76" fill="#00ccff"/>
<rect x="125.48" y="143.54" width="8.82" height="8.76" fill="#0099ff"/>
<rect x="133.90" y="143.54" width="8.82" height="8.76" fill="#0066ff"/>
<rect x="142.32" y="143.54" width="8.82" height="8.76" fill="#0099ff"/>
<rect x="150.74" y="143.54" width="8.82" height="8.76" fill="#33ffcc"/>
<rect x="159.16" y="143.54" width="8.82" height="8.76" fill="#66ff99"/>
<rect x="167.58" y="143.54" width="17.24" height="8.76" fill="#80ff80"/>
<rect x="184.42" y="143.54" width="8.82" height="8.76" fill="#66ff99"/>
<rect x="192.84" y="143.54" width="17.24" height="8.76" fill="#4dffb2"/>
<rect x="209.68" y="143.54" width="8.82" height="8.76" fill="#66ff99"/>
<rect x="218.10" y="143.54" width="8.82" height="8.76" fill="#99ff66"/>
<rect x="226.52" y="143.54" width="8.82" height="8.76" fill="#b3ff4c"/>
<rect x="234.94" y="143.54" width="8.82" height="8.76" fill="#ccff33"/>
<rect x="243.36" y="143.54" width="8.82" height="8.76" fill="#e5ff1a"/>
<rect x="251.78" y="143.54" width="8.82" height="8.76" fill="#ccff33"/>
<rect x="260.20" y="143.54" width="8.82" height="8.76" fill="#99ff66"/>
<rect x="268.62" y="143.54" width="8.82" height="8.76" fill="#66ff99"/>
<rect x="277.04" y="143.54" width="8.82" height="8.76" fill="#1affe5"/>
<rect x="285.46" y="143.54" width="11.82" height="8.76" fill="#00b2ff"/>
<rect x="41.28" y="151.90" width="8.82" height="8.76" fill="#0066ff"/>
<rect x="49.70" y="151.90" width="8.82" height="8.76" fill="#0080ff"/>
<rect x="58.12" y="151.90" width="8.82" height="8.76" fill="#004dff"/>
<rect x="66.54" y="151.90" width="17.24" height="8.76" fill="#0000e6"/>
<rect x="83.38" y="151.90" width="8.82" height="8.76" fill="#001aff"/>
<rect x="91.80" y="151.90" width="8.82" height="8.76" fill="#004dff"/>
<rect x="100.22" y="151.90" width="8.82" height="8.76" fill="#0099ff"/>
<rect x="108.64" y="151.90" width="8.82" height="8.76" fill="#00ccff"/>
<rect x="117.06" y="151.90" width="8.82" height="8.76" fill="#00b2ff"/>
<rect x="125.48" y="151.90" width="8.82" height="8.76" fill="#0099ff"/>
<rect x="133.90" y="151.90" width="8.82" height="8.76" fill="#0066ff"/>
<rect x="142.32" y="151.90" width="8.82" height="8.76" fill="#00ccff"/>
<rect x="150.74" y="151.90" width="8.82" height="8.76" fill="#33ffcc"/>
<rect x="159.16" y="151.90" width="8.82" height="8.76" fill="#66ff99"/>
<rect x="167.58" y="151.90" width="34.08" height="8.76" fill="#80ff80"/>
<rect x="201.26" y="151.90" width="8.82" height="8.76" fill="#66ff99"/>
<rect x="209.68" y="151.90" width="8.82" height="8.76" fill="#80ff80"/>
<rect x="218.10" y="151.90" width="34.08" height="8.76" fill="#99ff66"/>
<rect x="251.78" y="151.90" width="8.82" height="8.76" fill="#80ff80"/>
<rect x="260.20" y="151.90" width="8.82" height="8.76" fill="#66ff99"/>
<rect x="268.62" y="151.90" width="8.82" height="8.76" fill="#33ffcc"/>
<rect x="277.04" y="151.90" width="8.82" height="8.76" fill="#00ccff"/>
<rect x="285.46" y="151.90" width="11.82" height="8.76" fill="#00b2ff"/>
<rect x="41.28" y="160.26" width="17.24" height="8.76" fill="#0066ff"/>
<rect x="58.12" y="160.26" width="25.66" height="8.76" fill="#001aff"/>
<rect x="83.38" y="160.26" width="8.82" height="8.76" fill="#0033ff"/>
<rect x="91.80" y="160.26" width="8.82" height="8.76" fill="#0066ff"/>
<rect x="100.22" y="160.26" width="8.82" height="8.76" fill="#00b2ff"/>
<rect x="108.64" y="160.26" width="17.24" height="8.76" fill="#0099ff"/>
<rect x="125.48" y="160.26" width="8.82" height="8.76" fill="#00b2ff"/>
<rect x="133.90" y="160.26" width="8.82" height="8.76" fill="#0080ff"/>
<rect x="142.32" y="160.26" width="8.82" height="8.76" fill="#1affe5"/>
<rect x="150.74" y="160.26" width="8.82" height="8.76" fill="#4dffb2"/>
<rect x="159.16" y="160.26" width="8.82" height="8.76" fill="#66ff99"/>
<rect x="167.58" y="160.26" width="8.82" height="8.76" fill="#80ff80"/>
<rect x="176.00" y="160.26" width="17.24" height="8.76" fill="#99ff66"/>
<rect x="192.84" y="160.26" width="8.82" height="8.76" fill="#b3ff4c"/>
<rect x="201.26" y="160.26" width="17.24" height="8.76" fill="#99ff66"/>
<rect x="218.10" y="160.26" width="34.08" height="8.76" fill="#80ff80"/>
<rect x="251.78" y="160.26" width="8.82" height="8.76" fill="#66ff99"/>
<rect x="260.20" y="160.26" width="8.82" height="8.76" fill="#33ffcc"/>
<rect x="268.62" y="160.26" width="8.82" height="8.76" fill="#00e5ff"/>
<rect x="277.04" y="160.26" width="20.24" height="8.76" fill="#0099ff"/>
<rect x="41.28" y="168.62" width="8.82" height="8.76" fill="#0033ff"/>
<rect x="49.70" y="168.62" width="8.82" height="8.76" fill="#004dff"/>
<rect x="58.12" y="168.62" width="8.82" height="8.76" fill="#0033ff"/>
<rect x="66.54" y="168.62" width="8.82" height="8.76" fill="#004dff"/>
<rect x="74.96" y="168.62" width="8.82" height="8.76" fill="#0080ff"/>
<rect x="83.38" y="168.62" width="8.82" height="8.76" fill="#0099ff"/>
<rect x="91.80" y="168.62" width="8.82" height="8.76" fill="#00b2ff"/>
<rect x="100.22" y="168.62" width="8.82" height="8.76" fill="#00e5ff"/>
<rect x="108.64" y="168.62" width="8.82" height="8.76" fill="#0099ff"/>
<rect x="117.06" y="168.62" width="8.82" height="8.76" fill="#0080ff"/>
<rect x="125.48" y="168.62" width="8.82" height="8.76" fill="#00b2ff"/>
<rect x="133.90" y="168.62" width="8.82" height="8.76" fill="#00e5ff"/>
<rect x="142.32" y="168.62" width="8.82" height="8.76" fill="#4dffb2"/>
<rect x="150.74" y="168.62" width="8.82" height="8.76" fill="#66ff99"/>
<rect x="159.16" y="168.62" width="17.24" height="8.76" fill="#4dffb2"/>
<rect x="176.00" y="168.62" width="8.82" height="8.76" fill="#80ff80"/>
<rect x="184.42" y="168.62" width="8.82" height="8.76" fill="#99ff66"/>
<rect x="192.84" y="168.62" width="25.66" height="8.76" fill="#b3ff4c"/>
<rect x="218.10" y="168.62" width="8.82" height="8.76" fill="#ccff33"/>
<rect x="226.52" y="168.62" width="8.82" height="8.76" fill="#b3ff4c"/>
<rect x="234.94" y="168.62" width="17.24" height="8.76" fill="#80ff80"/>
<rect x="251.78" y="168.62" width="8.82" height="8.76" fill="#66ff99"/>
<rect x="260.20" y="168.62" width="8.82" height="8.76" fill="#33ffcc"/>
<rect x="268.62" y="168.62" width="8.82" height="8.76" fill="#00e5ff"/>
<rect x="277.04" y="168.62" width="8.82" height="8.76" fill="#0099ff"/>
<rect x="285.46" y="168.62" width="11.82" height="8.76" fill="#00b2ff"/>
<rect x="41.28" y="176.98" width="8.82" height="8.76" fill="#004dff"/>
<rect x="49.70" y="176.98" width="17.24" height="8.76" fill="#0080ff"/>
<rect x="66.54" y="176.98" width="8.82" height="8.76" fill="#0099ff"/>
<rect x="74.96" y="176.98" width="8.82" height="8.76" fill="#00b2ff"/>
<rect x="83.38" y="176.98" width="8.82" height="8.76" fill="#00ccff"/>
<rect x="91.80" y="176.98" width="8.82" height="8.76" fill="#00e5ff"/>
<rect x="100.22" y="176.98" width="8.82" height="8.76" fill="#00ccff"/>
<rect x="108.64" y="176.98" width="17.24" height="8.76" fill="#0099ff"/>
<rect x="125.48" y="176.98" width="8.82" height="8.76" fill="#00e5ff"/>
<rect x="133.90" y="176.98" width="8.82" height="8.76" fill="#1affe5"/>
<rect x="142.32" y="176.98" width="25.66" height="8.76" fill="#4dffb2"/>
<rect x="167.58" y="176.98" width="8.82" height="8.76" fill="#33ffcc"/>
<rect x="176.00" y="176.98" width="8.82" height="8.76" fill="#66ff99"/>
<rect x="184.42" y="176.98" width="17.24" height="8.76" fill="#80ff80"/>
<rect x="201.26" y="176.98" width="8.82" height="8.76" fill="#99ff66"/>
<rect x="209.68" y="176.98" width="8.82" height="8.76" fill="#b3ff4c"/>
<rect x="218.10" y="176.98" width="8.82" height="8.76" fill="#ccff33"/>
<rect x="226.52" y="176.98" width="8.82" height="8.76" fill="#b3ff4c"/>
<rect x="234.94" y="176.98" width="8.82" height="8.76" fill="#80ff80"/>
<rect x="243.36" y="176.98" width="8.82" height="8.76" fill="#66ff99"/>
<rect x="251.78" y="176.98" width="17.24" height="8.76" fill="#4dffb2"/>
<rect x="268.62" y="176.98" width="8.82" height="8.76" fill="#1affe5"/>
<rect x="277.04" y="176.98" width="8.82" height="8.76" fill="#00e5ff"/>
<rect x="285.46" y="176.98" width="11.82" height="8.76" fill="#00ffff"/>
<rect x="41.28" y="185.34" width="8.82" height="8.76" fill="#0033ff"/>
<rect x="49.70" y="185.34" width="8.82" height="8.76" fill="#00ccff"/>
<rect x="58.12" y="185.34" width="8.82" height="8.76" fill="#00b2ff"/>
<rect x="66.54" y="185.34" width="8.82" height="8.76" fill="#00ccff"/>
<rect x="74.96" y="185.34" width="8.82" height="8.76" fill="#00b2ff"/>
<rect x="83.38" y="185.34" width="25.66" height="8.76" fill="#00e5ff"/>
<rect x="108.64" y="185.34" width="8.82" height="8.76" fill="#00ccff"/>
<rect x="117.06" y="185.34" width="8.82" height="8.76" fill="#00e5ff"/>
<rect x="125.48" y="185.34" width="8.82" height="8.76" fill="#1affe5"/>
<rect x="133.90" y="185.34" width="8.82" height="8.76" fill="#4dffb2"/>
<rect x="142.32" y="185.34" width="8.82" height="8.76" fill="#66ff99"/>
<rect x="150.74" y="185.34" width="17.24" height="8.76" fill="#4dffb2"/>
<rect x="167.58" y="185.34" width="8.82" height="8.76" fill="#33ffcc"/>
<rect x="176.00" y="185.34" width="17.24" height="8.76" fill="#4dffb2"/>
<rect x="192.84" y="185.34" width="8.82" height="8.76" fill="#66ff99"/>
<rect x="201.26" y="185.34" width="8.82" height="8.76" fill="#80ff80"/>
<rect x="209.68" y="185.34" width="8.82" height="8.76" fill="#99ff66"/>
<rect x="218.10" y="185.34" width="8.82" height="8.76" fill="#b3ff4c"/>
<rect x="226.52" y="185.34" width="8.82" height="8.76" fill="#99ff66"/>
<rect x="234.94" y="185.34" width="8.82" height="8.76" fill="#80ff80"/>
<rect x="243.36" y="185.34" width="8.82" height="8.76" fill="#4dffb2"/>
<rect x="251.78" y="185.34" width="8.82" height="8.76" fill="#33ffcc"/>
<rect x="260.20" y="185.34" width="37.08" height="8.76" fill="#1affe5"/>
<rect x="41.28" y="193.70" width="8.82" height="8.76" fill="#0000ff"/>
<rect x="49.70" y="193.70" width="8.82" height="8.76" fill="#0066ff"/>
<rect x="58.12" y="193.70" width="8.82" height="8.76" fill="#0099ff"/>
<rect x="66.54" y="193.70" width="8.82" height="8.76" fill="#00b2ff"/>
<rect x="74.96" y="193.70" width="8.82" height="8.76" fill="#00ccff"/>
<rect x="83.38" y="193.70" width="8.82" height="8.76" fill="#00e5ff"/>
<rect x="91.80" y="193.70" width="17.24" height="8.76" fill="#33ffcc"/>
<rect x="108.64" y="193.70" width="8.82" height="8.76" fill="#00e5ff"/>
<rect x="117.06" y="193.70" width="8.82" height="8.76" fill="#1affe5"/>
<rect x="125.48" y="193.70" width="25.66" height="8.76" fill="#66ff99"/>
<rect x="150.74" y="193.70" width="8.82" height="8.76" fill="#4dffb2"/>
<rect x="159.16" y="193.70" width="8.82" height="8.76" fill="#33ffcc"/>
<rect x="167.58" y="193.70" width="8.82" height="8.76" fill="#1affe5"/>
<rect x="176.00" y="193.70" width="17.24" height="8.76" fill="#4dffb2"/>
<rect x="192.84" y="193.70" width="17.24" height="8.76" fill="#66ff99"/>
<rect x="209.68" y="193.70" width="8.82" height="8.76" fill="#99ff66"/>
<rect x="218.10" y="193.70" width="8.82" height="8.76" fill="#ccff33"/>
<rect x="226.52" y="193.70" width="8.82" height="8.76" fill="#99ff66"/>
<rect x="234.94" y="193.70" width="8.82" height="8.76" fill="#66ff99"/>
<rect x="243.36" y="193.70" width="8.82" height="8.76" fill="#4dffb2"/>
<rect x="251.78" y="193.70" width="8.82" height="8.76" fill="#33ffcc"/>
<rect x="260.20" y="193.70" width="8.82" height="8.76" fill="#1affe5"/>
<rect x="268.62" y="193.70" width="8.82" height="8.76" fill="#33ffcc"/>
<rect x="277.04" y="193.70" width="20.24" height="8.76" fill="#4dffb2"/>
<rect x="41.28" y="202.06" width="8.82" height="8.76" fill="#0000e6"/>
<rect x="49.70" y="202.06" width="8.82" height="8.76" fill="#0000ff"/>
<rect x="58.12" y="202.06" width="8.82" height="8.76" fill="#004dff"/>
<rect x="66.54" y="202.06" width="8.82" height="8.76" fill="#001aff"/>
<rect x="74.96" y="202.06" width="8.82" height="8.76" fill="#0099ff"/>
<rect x="83.38" y="202.06" width="8.82" height="8.76" fill="#00e5ff"/>
<rect x="91.80" y="202.06" width="8.82" height="8.76" fill="#4dffb2"/>
<rect x="100.22" y="202.06" width="8.82" height="8.76" fill="#66ff99"/>
<rect x="108.64" y="202.06" width="8.82" height="8.76" fill="#80ff80"/>
<rect x="117.06" y="202.06" width="8.82" height="8.76" fill="#66ff99"/>
<rect x="125.48" y="202.06" width="8.82" height="8.76" fill="#4dffb2"/>
<rect x="133.90" y="202.06" width="8.82" height="8.76" fill="#66ff99"/>
<rect x="142.32" y="202.06" width="17.24" height="8.76" fill="#4dffb2"/>
<rect x="159.16" y="202.06" width="8.82" height="8.76" fill="#33ffcc"/>
<rect x="167.58" y="202.06" width="8.82" height="8.76" fill="#1affe5"/>
<rect x="176.00" y="202.06" width="8.82" height="8.76" fill="#33ffcc"/>
<rect x="184.42" y="202.06" width="8.82" height="8.76" fill="#4dffb2"/>
<rect x="192.84" y="202.06" width="17.24" height="8.76" fill="#66ff99"/>
<rect x="209.68" y="202.06" width="8.82" height="8.76" fill="#80ff80"/>
<rect x="218.10" y="202.06" width="8.82" height="8.76" fill="#99ff66"/>
<rect x="226.52" y="202.06" width="8.82" height="8.76" fill="#80ff80"/>
<rect x="234.94" y="202.06" width="17.24" height="8.76" fill="#4dffb2"/>
<rect x="251.78" y="202.06" width="8.82" height="8.76" fill="#1affe5"/>
<rect x="260.20" y="202.06" width="8.82" height="8.76" fill="#00e5ff"/>
<rect x="268.62" y="202.06" width="8.82" height="8.76" fill="#4dffb2"/>
<rect x="277.04" y="202.06" width="8.82" height="8.76" fill="#66ff99"/>
<rect x="285.46" y="202.06" width="11.82" height="8.76" fill="#99ff66"/>
<rect x="41.28" y="210.42" width="8.82" height="8.76" fill="#0000e6"/>
<rect x="49.70" y="210.42" width="8.82" height="8.76" fill="#0000b2"/>
<rect x="58.12" y="210.42" width="8.82" height="8.76" fill="#0000e6"/>
<rect x="66.54" y="210.42" width="8.82" height="8.76" fill="#0066ff"/>
<rect x="74.96" y="210.42" width="8.82" height="8.76" fill="#0099ff"/>
<rect x="83.38" y="210.42" width="8.82" height="8.76" fill="#00e5ff"/>
<rect x="91.80" y="210.42" width="17.24" height="8.76" fill="#4dffb2"/>
<rect x="108.64" y="210.42" width="8.82" height="8.76" fill="#66ff99"/>
<rect x="117.06" y="210.42" width="17.24" height="8.76" fill="#4dffb2"/>
<rect x="133.90" y="210.42" width="8.82" height="8.76" fill="#66ff99"/>
<rect x="142.32" y="210.42" width="8.82" height="8.76" fill="#4dffb2"/>
<rect x="150.74" y="210.42" width="8.82" height="8.76" fill="#33ffcc"/>
<rect x="159.16" y="210.42" width="8.82" height="8.76" fill="#4dffb2"/>
<rect x="167.58" y="210.42" width="17.24" height="8.76" fill="#33ffcc"/>
<rect x="184.42" y="210.42" width="8.82" height="8.76" fill="#4dffb2"/>
<rect x="192.84" y="210.42" width="17.24" height="8.76" fill="#66ff99"/>
<rect x="209.68" y="210.42" width="17.24" height="8.76" fill="#80ff80"/>
<rect x="226.52" y="210.42" width="8.82" height="8.76" fill="#66ff99"/>
<rect x="234.94" y="210.42" width="8.82" height="8.76" fill="#00ffff"/>
<rect x="243.36" y="210.42" width="8.82" height="8.76" fill="#00e5ff"/>
<rect x="251.78" y="210.42" width="8.82" height="8.76" fill="#00ccff"/>
<rect x="260.20" y="210.42" width="8.82" height="8.76" fill="#00e5ff"/>
<rect x="268.62" y="210.42" width="17.24" height="8.76" fill="#33ffcc"/>
<rect x="285.46" y="210.42" width="11.82" height="8.76" fill="#1affe5"/>
<rect x="41.28" y="218.78" width="17.24" height="8.76" fill="#000080"/>
<rect x="58.12" y="218.78" width="8.82" height="8.76" fill="#0000b2"/>
<rect x="66.54" y="218.78" width="8.82" height="8.76" fill="#004dff"/>
<rect x="74.96" y="218.78" width="8.82" height="8.76" fill="#0066ff"/>
<rect x="83.38" y="218.78" width="8.82" height="8.76" fill="#00ccff"/>
<rect x="91.80" y="218.78" width="8.82" height="8.76" fill="#00e5ff"/>
<rect x="100.22" y="218.78" width="8.82" height="8.76" fill="#00ccff"/>
<rect x="108.64" y="218.78" width="8.82" height="8.76" fill="#00e5ff"/>
<rect x="117.06" y="218.78" width="8.82" height="8.76" fill="#00ffff"/>
<rect x="125.48" y="218.78" width="8.82" height="8.76" fill="#00e5ff"/>
<rect x="133.90" y="218.78" width="8.82" height="8.76" fill="#00ffff"/>
<rect x="142.32" y="218.78" width="8.82" height="8.76" fill="#1affe5"/>
<rect x="150.74" y="218.78" width="8.82" height="8.76" fill="#00ffff"/>
<rect x="159.16" y="218.78" width="8.82" height="8.76" fill="#4dffb2"/>
<rect x="167.58" y="218.78" width="17.24" height="8.76" fill="#1affe5"/>
<rect x="184.42" y="218.78" width="8.82" height="8.76" fill="#4dffb2"/>
<rect x="192.84" y="218.78" width="8.82" height="8.76" fill="#66ff99"/>
<rect x="201.26" y="218.78" width="17.24" height="8.76" fill="#80ff80"/>
<rect x="218.10" y="218.78" width="8.82" height="8.76" fill="#66ff99"/>
<rect x="226.52" y="218.78" width="8.82" height="8.76" fill="#1affe5"/>
<rect x="234.94" y="218.78" width="8.82" height="8.76" fill="#00e5ff"/>
<rect x="243.36" y="218.78" width="8.82" height="8.76" fill="#00b2ff"/>
<rect x="251.78" y="218.78" width="8.82" height="8.76" fill="#0099ff"/>
<rect x="260.20" y="218.78" width="17.24" height="8.76" fill="#00ccff"/>
<rect x="277.04" y="218.78" width="8.82" height="8.76" fill="#00b2ff"/>
<rect x="285.46" y="218.78" width="11.82" height="8.76" fill="#001aff"/>
<rect x="41.28" y="227.14" width="25.66" height="8.76" fill="#000080"/>
<rect x="66.54" y="227.14" width="8.82" height="8.76" fill="#0000e6"/>
<rect x="74.96" y="227.14" width="8.82" height="8.76" fill="#0033ff"/>
<rect x="83.38" y="227.14" width="8.82" height="8.76" fill="#004dff"/>
<rect x="91.80" y="227.14" width="8.82" height="8.76" fill="#00b2ff"/>
<rect x="100.22" y="227.14" width="8.82" height="8.76" fill="#0099ff"/>
<rect x="108.64" y="227.14" width="8.82" height="8.76" fill="#00b2ff"/>
<rect x="117.06" y="227.14" width="17.24" height="8.76" fill="#0099ff"/>
<rect x="133.90" y="227.14" width="8.82" height="8.76" fill="#00e5ff"/>
<rect x="142.32" y="227.14" width="8.82" height="8.76" fill="#66ff99"/>
<rect x="150.74" y="227.14" width="8.82" height="8.76" fill="#1affe5"/>
<rect x="159.16" y="227.14" width="8.82" height="8.76" fill="#4dffb2"/>
<rect x="167.58" y="227.14" width="8.82" height="8.76" fill="#1affe5"/>
<rect x="176.00" y="227.14" width="34.08" height="8.76" fill="#00e5ff"/>
<rect x="209.68" y="227.14" width="8.82" height="8.76" fill="#00ccff"/>
<rect x="218.10" y="227.14" width="8.82" height="8.76" fill="#00b2ff"/>
<rect x="226.52" y="227.14" width="34.08" height="8.76" fill="#0099ff"/>
<rect x="260.20" y="227.14" width="8.82" height="8.76" fill="#0080ff"/>
<rect x="268.62" y="227.14" width="8.82" height="8.76" fill="#0066ff"/>
<rect x="277.04" y="227.14" width="8.82" height="8.76" fill="#001aff"/>
<rect x="285.46" y="227.14" width="11.82" height="8.76" fill="#0000e6"/>
<rect x="41.28" y="235.50" width="50.92" height="8.76" fill="#000080"/>
<rect x="91.80" y="235.50" width="8.82" height="8.76" fill="#00b2ff"/>
<rect x="100.22" y="235.50" width="8.82" height="8.76" fill="#0099ff"/>
<rect x="108.64" y="235.50" width="25.66" height="8.76" fill="#00b2ff"/>
<rect x="133.90" y="235.50" width="8.82" height="8.76" fill="#1affe5"/>
<rect x="142.32" y="235.50" width="8.82" height="8.76" fill="#4dffb2"/>
<rect x="150.74" y="235.50" width="8.82" height="8.76" fill="#1affe5"/>
<rect x="159.16" y="235.50" width="8.82" height="8.76" fill="#4dffb2"/>
<rect x="167.58" y="235.50" width="8.82" height="8.76" fill="#00b2ff"/>
<rect x="176.00" y="235.50" width="17.24" height="8.76" fill="#004dff"/>
<rect x="192.84" y="235.50" width="8.82" height="8.76" fill="#0066ff"/>
<rect x="201.26" y="235.50" width="17.24" height="8.76" fill="#0099ff"/>
<rect x="218.10" y="235.50" width="17.24" height="8.76" fill="#0080ff"/>
<rect x="234.94" y="235.50" width="8.82" height="8.76" fill="#0066ff"/>
<rect x="243.36" y="235.50" width="8.82" height="8.76" fill="#004dff"/>
<rect x="251.78" y="235.50" width="8.82" height="8.76" fill="#001aff"/>
<rect x="260.20" y="235.50" width="8.82" height="8.76" fill="#0033ff"/>
<rect x="268.62" y="235.50" width="8.82" height="8.76" fill="#004dff"/>
<rect x="277.04" y="235.50" width="8.82" height="8.76" fill="#0000ff"/>
<rect x="285.46" y="235.50" width="11.82" height="8.76" fill="#000099"/>
<rect x="41.28" y="243.86" width="109.86" height="8.76" fill="#000080"/>
<rect x="150.74" y="243.86" width="17.24" height="8.76" fill="#1affe5"/>
<rect x="167.58" y="243.86" width="8.82" height="8.76" fill="#0080ff"/>
<rect x="176.00" y="243.86" width="25.66" height="8.76" fill="#004dff"/>
<rect x="201.26" y="243.86" width="8.82" height="8.76" fill="#001aff"/>
<rect x="209.68" y="243.86" width="17.24" height="8.76" fill="#0000ff"/>
<rect x="226.52" y="243.86" width="8.82" height="8.76" fill="#001aff"/>
<rect x="234.94" y="243.86" width="8.82" height="8.76" fill="#0000ff"/>
<rect x="243.36" y="243.86" width="8.82" height="8.76" fill="#0000e6"/>
<rect x="251.78" y="243.86" width="8.82" height="8.76" fill="#0000b2"/>
<rect x="260.20" y="243.86" width="17.24" height="8.76" fill="#0000e6"/>
<rect x="277.04" y="243.86" width="8.82" height="8.76" fill="#0000b2"/>
<rect x="285.46" y="243.86" width="11.82" height="8.76" fill="#000080"/>
<rect x="41.28" y="252.22" width="135.12" height="8.76" fill="#000080"/>
<rect x="176.00" y="252.22" width="25.66" height="8.76" fill="#004dff"/>
<rect x="201.26" y="252.22" width="8.82" height="8.76" fill="#001aff"/>
<rect x="209.68" y="252.22" width="17.24" height="8.76" fill="#0000ff"/>
<rect x="226.52" y="252.22" width="8.82" height="8.76" fill="#001aff"/>
<rect x="234.94" y="252.22" width="8.82" height="8.76" fill="#0000ff"/>
<rect x="243.36" y="252.22" width="8.82" height="8.76" fill="#0000e6"/>
<rect x="251.78" y="252.22" width="8.82" height="8.76" fill="#0000b2"/>
<rect x="260.20" y="252.22" width="17.24" height="8.76" fill="#0000e6"/>
<rect x="277.04" y="252.22" width="8.82" height="8.76" fill="#0000b2"/>
<rect x="285.46" y="252.22" width="11.82" height="8.76" fill="#000080"/>
</g></g>
<g clip-path="url(#cb)"><g filter="url(#hb)" shape-rendering="crispEdges">
<rect x="390.21" y="-0.10" width="8.69" height="8.80" fill="#000080"/>
<rect x="398.50" y="-0.10" width="33.56" height="8.80" fill="#0000b2"/>
<rect x="431.66" y="-0.10" width="16.98" height="8.80" fill="#0000e6"/>
<rect x="448.24" y="-0.10" width="58.43" height="8.80" fill="#000080"/>
<rect x="506.27" y="-0.10" width="16.98" height="8.80" fill="#0000b2"/>
<rect x="522.85" y="-0.10" width="50.14" height="8.80" fill="#0000e6"/>
<rect x="572.59" y="-0.10" width="8.69" height="8.80" fill="#0000b2"/>
<rect x="580.88" y="-0.10" width="61.43" height="8.80" fill="#000080"/>
<rect x="390.21" y="8.30" width="8.69" height="8.80" fill="#000080"/>
<rect x="398.50" y="8.30" width="41.85" height="8.80" fill="#001aff"/>
<rect x="439.95" y="8.30" width="8.69" height="8.80" fill="#004dff"/>
<rect x="448.24" y="8.30" width="8.69" height="8.80" fill="#00b2ff"/>
<rect x="456.53" y="8.30" width="16.98" height="8.80" fill="#00e5ff"/>
<rect x="473.11" y="8.30" width="8.69" height="8.80" fill="#1affe5"/>
<rect x="481.40" y="8.30" width="8.69" height="8.80" fill="#4dffb2"/>
<rect x="489.69" y="8.30" width="8.69" height="8.80" fill="#0080ff"/>
<rect x="497.98" y="8.30" width="8.69" height="8.80" fill="#001aff"/>
<rect x="506.27" y="8.30" width="8.69" height="8.80" fill="#0000b2"/>
<rect x="514.56" y="8.30" width="8.69" height="8.80" fill="#0000e6"/>
<rect x="522.85" y="8.30" width="8.69" height="8.80" fill="#0000ff"/>
<rect x="531.14" y="8.30" width="50.14" height="8.80" fill="#001aff"/>
<rect x="580.88" y="8.30" width="61.43" height="8.80" fill="#000080"/>
<rect x="390.21" y="16.70" width="8.69" height="8.80" fill="#0000e6"/>
<rect x="398.50" y="16.70" width="33.56" height="8.80" fill="#001aff"/>
<rect x="431.66" y="16.70" width="16.98" height="8.80" fill="#004dff"/>
<rect x="448.24" y="16.70" width="8.69" height="8.80" fill="#00b2ff"/>
<rect x="456.53" y="16.70" width="8.69" height="8.80" fill="#00e5ff"/>
<rect x="464.82" y="16.70" width="8.69" height="8.80" fill="#00ffff"/>
<rect x="473.11" y="16.70" width="8.69" height="8.80" fill="#1affe5"/>
<rect x="481.40" y="16.70" width="8.69" height="8.80" fill="#4dffb2"/>
<rect x="489.69" y="16.70" width="8.69" height="8.80" fill="#00e5ff"/>
<rect x="497.98" y="16.70" width="8.69" height="8.80" fill="#0080ff"/>
<rect x="506.27" y="16.70" width="8.69" height="8.80" fill="#0099ff"/>
<rect x="514.56" y="16.70" width="8.69" height="8.80" fill="#00ccff"/>
<rect x="522.85" y="16.70" width="8.69" height="8.80" fill="#1affe5"/>
<rect x="531.14" y="16.70" width="16.98" height="8.80" fill="#00e5ff"/>
<rect x="547.72" y="16.70" width="8.69" height="8.80" fill="#1affe5"/>
<rect x="556.01" y="16.70" width="8.69" height="8.80" fill="#00e5ff"/>
<rect x="564.30" y="16.70" width="8.69" height="8.80" fill="#0080ff"/>
<rect x="572.59" y="16.70" width="69.72" height="8.80" fill="#000080"/>
<rect x="390.21" y="25.10" width="8.69" height="8.80" fill="#0000e6"/>
<rect x="398.50" y="25.10" width="16.98" height="8.80" fill="#0080ff"/>
<rect x="415.08" y="25.10" width="8.69" height="8.80" fill="#00b2ff"/>
<rect x="423.37" y="25.10" width="16.98" height="8.80" fill="#00e5ff"/>
<rect x="439.95" y="25.10" width="33.56" height="8.80" fill="#1affe5"/>
<rect x="473.11" y="25.10" width="8.69" height="8.80" fill="#33ffcc"/>
<rect x="481.40" y="25.10" width="8.69" height="8.80" fill="#4dffb2"/>
<rect x="489.69" y="25.10" width="8.69" height="8.80" fill="#33ffcc"/>
<rect x="497.98" y="25.10" width="8.69" height="8.80" fill="#4dffb2"/>
<rect x="506.27" y="25.10" width="8.69" height="8.80" fill="#66ff99"/>
<rect x="514.56" y="25.10" width="8.69" height="8.80" fill="#b3ff4c"/>
<rect x="522.85" y="25.10" width="16.98" height="8.80" fill="#80ff80"/>
<rect x="539.43" y="25.10" width="8.69" height="8.80" fill="#99ff66"/>
<rect x="547.72" y="25.10" width="16.98" height="8.80" fill="#b3ff4c"/>
<rect x="564.30" y="25.10" width="8.69" height="8.80" fill="#ccff33"/>
<rect x="572.59" y="25.10" width="8.69" height="8.80" fill="#ffb300"/>
<rect x="580.88" y="25.10" width="8.69" height="8.80" fill="#ffcc00"/>
<rect x="589.17" y="25.10" width="8.69" height="8.80" fill="#e5ff1a"/>
<rect x="597.46" y="25.10" width="8.69" height="8.80" fill="#99ff66"/>
<rect x="605.75" y="25.10" width="25.27" height="8.80" fill="#80ff80"/>
<rect x="630.62" y="25.10" width="11.69" height="8.80" fill="#000080"/>
<rect x="390.21" y="33.50" width="8.69" height="8.80" fill="#001aff"/>
<rect x="398.50" y="33.50" width="8.69" height="8.80" fill="#0080ff"/>
<rect x="406.79" y="33.50" width="8.69" height="8.80" fill="#00e5ff"/>
<rect x="415.08" y="33.50" width="66.72" height="8.80" fill="#1affe5"/>
<rect x="481.40" y="33.50" width="8.69" height="8.80" fill="#4dffb2"/>
<rect x="489.69" y="33.50" width="8.69" height="8.80" fill="#1affe5"/>
<rect x="497.98" y="33.50" width="8.69" height="8.80" fill="#33ffcc"/>
<rect x="506.27" y="33.50" width="8.69" height="8.80" fill="#4dffb2"/>
<rect x="514.56" y="33.50" width="8.69" height="8.80" fill="#99ff66"/>
<rect x="522.85" y="33.50" width="8.69" height="8.80" fill="#e5ff1a"/>
<rect x="531.14" y="33.50" width="8.69" height="8.80" fill="#ffe500"/>
<rect x="539.43" y="33.50" width="8.69" height="8.80" fill="#ff9900"/>
<rect x="547.72" y="33.50" width="8.69" height="8.80" fill="#ff4c00"/>
<rect x="556.01" y="33.50" width="8.69" height="8.80" fill="#e50000"/>
<rect x="564.30" y="33.50" width="8.69" height="8.80" fill="#ff4c00"/>
<rect x="572.59" y="33.50" width="8.69" height="8.80" fill="#ffb300"/>
<rect x="580.88" y="33.50" width="8.69" height="8.80" fill="#ffcc00"/>
<rect x="589.17" y="33.50" width="8.69" height="8.80" fill="#ffff00"/>
<rect x="597.46" y="33.50" width="8.69" height="8.80" fill="#b3ff4c"/>
<rect x="605.75" y="33.50" width="8.69" height="8.80" fill="#99ff66"/>
<rect x="614.04" y="33.50" width="8.69" height="8.80" fill="#66ff99"/>
<rect x="622.33" y="33.50" width="8.69" height="8.80" fill="#00e5ff"/>
<rect x="630.62" y="33.50" width="11.69" height="8.80" fill="#001aff"/>
<rect x="390.21" y="41.90" width="8.69" height="8.80" fill="#004dff"/>
<rect x="398.50" y="41.90" width="8.69" height="8.80" fill="#1affe5"/>
<rect x="406.79" y="41.90" width="16.98" height="8.80" fill="#4dffb2"/>
<rect x="423.37" y="41.90" width="58.43" height="8.80" fill="#1affe5"/>
<rect x="481.40" y="41.90" width="8.69" height="8.80" fill="#33ffcc"/>
<rect x="489.69" y="41.90" width="8.69" height="8.80" fill="#1affe5"/>
<rect x="497.98" y="41.90" width="8.69" height="8.80" fill="#33ffcc"/>
<rect x="506.27" y="41.90" width="8.69" height="8.80" fill="#4dffb2"/>
<rect x="514.56" y="41.90" width="8.69" height="8.80" fill="#99ff66"/>
<rect x="522.85" y="41.90" width="8.69" height="8.80" fill="#e5ff1a"/>
<rect x="531.14" y="41.90" width="8.69" height="8.80" fill="#ffcc00"/>
<rect x="539.43" y="41.90" width="8.69" height="8.80" fill="#ff8000"/>
<rect x="547.72" y="41.90" width="8.69" height="8.80" fill="#ff1a00"/>
<rect x="556.01" y="41.90" width="8.69" height="8.80" fill="#cc0000"/>
<rect x="564.30" y="41.90" width="8.69" height="8.80" fill="#ff4c00"/>
<rect x="572.59" y="41.90" width="8.69" height="8.80" fill="#ffb300"/>
<rect x="580.88" y="41.90" width="8.69" height="8.80" fill="#ffcc00"/>
<rect x="589.17" y="41.90" width="8.69" height="8.80" fill="#ffe500"/>
<rect x="597.46" y="41.90" width="8.69" height="8.80" fill="#e5ff1a"/>
<rect x="605.75" y="41.90" width="8.69" height="8.80" fill="#ffff00"/>
<rect x="614.04" y="41.90" width="8.69" height="8.80" fill="#ccff33"/>
<rect x="622.33" y="41.90" width="8.69" height="8.80" fill="#b3ff4c"/>
<rect x="630.62" y="41.90" width="11.69" height="8.80" fill="#00ccff"/>
<rect x="390.21" y="50.30" width="8.69" height="8.80" fill="#0066ff"/>
<rect x="398.50" y="50.30" width="8.69" height="8.80" fill="#33ffcc"/>
<rect x="406.79" y="50.30" width="8.69" height="8.80" fill="#80ff80"/>
<rect x="415.08" y="50.30" width="8.69" height="8.80" fill="#4dffb2"/>
<rect x="423.37" y="50.30" width="8.69" height="8.80" fill="#1affe5"/>
<rect x="431.66" y="50.30" width="8.69" height="8.80" fill="#00ffff"/>
<rect x="439.95" y="50.30" width="8.69" height="8.80" fill="#00e5ff"/>
<rect x="448.24" y="50.30" width="8.69" height="8.80" fill="#00ffff"/>
<rect x="456.53" y="50.30" width="8.69" height="8.80" fill="#00e5ff"/>
<rect x="464.82" y="50.30" width="16.98" height="8.80" fill="#00ffff"/>
<rect x="481.40" y="50.30" width="16.98" height="8.80" fill="#1affe5"/>
<rect x="497.98" y="50.30" width="8.69" height="8.80" fill="#33ffcc"/>
<rect x="506.27" y="50.30" width="8.69" height="8.80" fill="#4dffb2"/>
<rect x="514.56" y="50.30" width="8.69" height="8.80" fill="#99ff66"/>
<rect x="522.85" y="50.30" width="8.69" height="8.80" fill="#e5ff1a"/>
<rect x="531.14" y="50.30" width="8.69" height="8.80" fill="#ffcc00"/>
<rect x="539.43" y="50.30" width="8.69" height="8.80" fill="#ff8000"/>
<rect x="547.72" y="50.30" width="8.69" height="8.80" fill="#ff1a00"/>
<rect x="556.01" y="50.30" width="8.69" height="8.80" fill="#cc0000"/>
<rect x="564.30" y="50.30" width="8.69" height="8.80" fill="#ff4c00"/>
<rect x="572.59" y="50.30" width="8.69" height="8.80" fill="#ffb300"/>
<rect x="580.88" y="50.30" width="16.98" height="8.80" fill="#ffcc00"/>
<rect x="597.46" y="50.30" width="8.69" height="8.80" fill="#ffb300"/>
<rect x="605.75" y="50.30" width="8.69" height="8.80" fill="#ff9900"/>
<rect x="614.04" y="50.30" width="8.69" height="8.80" fill="#ffb300"/>
<rect x="622.33" y="50.30" width="8.69" height="8.80" fill="#ffcc00"/>
<rect x="630.62" y="50.30" width="11.69" height="8.80" fill="#e5ff1a"/>
<rect x="390.21" y="58.70" width="8.69" height="8.80" fill="#00b2ff"/>
<rect x="398.50" y="58.70" width="8.69" height="8.80" fill="#33ffcc"/>
<rect x="406.79" y="58.70" width="8.69" height="8.80" fill="#66ff99"/>
<rect x="415.08" y="58.70" width="8.69" height="8.80" fill="#4dffb2"/>
<rect x="423.37" y="58.70" width="8.69" height="8.80" fill="#33ffcc"/>
<rect x="431.66" y="58.70" width="41.85" height="8.80" fill="#00e5ff"/>
<rect x="473.11" y="58.70" width="8.69" height="8.80" fill="#00ffff"/>
<rect x="481.40" y="58.70" width="8.69" height="8.80" fill="#1affe5"/>
<rect x="489.69" y="58.70" width="8.69" height="8.80" fill="#00ffff"/>
<rect x="497.98" y="58.70" width="8.69" height="8.80" fill="#33ffcc"/>
<rect x="506.27" y="58.70" width="8.69" height="8.80" fill="#4dffb2"/>
<rect x="514.56" y="58.70" width="8.69" height="8.80" fill="#80ff80"/>
<rect x="522.85" y="58.70" width="8.69" height="8.80" fill="#e5ff1a"/>
<rect x="531.14" y="58.70" width="8.69" height="8.80" fill="#ffb300"/>
<rect x="539.43" y="58.70" width="8.69" height="8.80" fill="#ff6600"/>
<rect x="547.72" y="58.70" width="8.69" height="8.80" fill="#ff1a00"/>
<rect x="556.01" y="58.70" width="8.69" height="8.80" fill="#cc0000"/>
<rect x="564.30" y="58.70" width="8.69" height="8.80" fill="#ff3300"/>
<rect x="572.59" y="58.70" width="8.69" height="8.80" fill="#ffb300"/>
<rect x="580.88" y="58.70" width="8.69" height="8.80" fill="#ffcc00"/>
<rect x="589.17" y="58.70" width="8.69" height="8.80" fill="#ffb300"/>
<rect x="597.46" y="58.70" width="8.69" height="8.80" fill="#ff8000"/>
<rect x="605.75" y="58.70" width="8.69" height="8.80" fill="#ff3300"/>
<rect x="614.04" y="58.70" width="8.69" height="8.80" fill="#ff1a00"/>
<rect x="622.33" y="58.70" width="8.69" height="8.80" fill="#ff4c00"/>
<rect x="630.62" y="58.70" width="11.69" height="8.80" fill="#ff8000"/>
<rect x="390.21" y="67.10" width="16.98" height="8.80" fill="#1affe5"/>
<rect x="406.79" y="67.10" width="8.69" height="8.80" fill="#33ffcc"/>
<rect x="415.08" y="67.10" width="8.69" height="8.80" fill="#1affe5"/>
<rect x="423.37" y="67.10" width="8.69" height="8.80" fill="#00ffff"/>
<rect x="431.66" y="67.10" width="8.69" height="8.80" fill="#00e5ff"/>
<rect x="439.95" y="67.10" width="25.27" height="8.80" fill="#00ccff"/>
<rect x="464.82" y="67.10" width="8.69" height="8.80" fill="#00b2ff"/>
<rect x="473.11" y="67.10" width="16.98" height="8.80" fill="#00ccff"/>
<rect x="489.69" y="67.10" width="16.98" height="8.80" fill="#00e5ff"/>
<rect x="506.27" y="67.10" width="8.69" height="8.80" fill="#00ffff"/>
<rect x="514.56" y="67.10" width="8.69" height="8.80" fill="#4dffb2"/>
<rect x="522.85" y="67.10" width="8.69" height="8.80" fill="#99ff66"/>
<rect x="531.14" y="67.10" width="8.69" height="8.80" fill="#ffcc00"/>
<rect x="539.43" y="67.10" width="8.69" height="8.80" fill="#ff9900"/>
<rect x="547.72" y="67.10" width="8.69" height="8.80" fill="#ff4c00"/>
<rect x="556.01" y="67.10" width="8.69" height="8.80" fill="#ff1a00"/>
<rect x="564.30" y="67.10" width="8.69" height="8.80" fill="#ff8000"/>
<rect x="572.59" y="67.10" width="8.69" height="8.80" fill="#ffcc00"/>
<rect x="580.88" y="67.10" width="8.69" height="8.80" fill="#ffe500"/>
<rect x="589.17" y="67.10" width="8.69" height="8.80" fill="#ffcc00"/>
<rect x="597.46" y="67.10" width="8.69" height="8.80" fill="#ffb300"/>
<rect x="605.75" y="67.10" width="8.69" height="8.80" fill="#ff9900"/>
<rect x="614.04" y="67.10" width="16.98" height="8.80" fill="#ff4c00"/>
<rect x="630.62" y="67.10" width="11.69" height="8.80" fill="#ff9900"/>
<rect x="390.21" y="75.50" width="25.27" height="8.80" fill="#00e5ff"/>
<rect x="415.08" y="75.50" width="16.98" height="8.80" fill="#00ccff"/>
<rect x="431.66" y="75.50" width="25.27" height="8.80" fill="#00b2ff"/>
<rect x="456.53" y="75.50" width="8.69" height="8.80" fill="#0099ff"/>
<rect x="464.82" y="75.50" width="16.98" height="8.80" fill="#00b2ff"/>
<rect x="481.40" y="75.50" width="8.69" height="8.80" fill="#00ccff"/>
<rect x="489.69" y="75.50" width="16.98" height="8.80" fill="#00e5ff"/>
<rect x="506.27" y="75.50" width="8.69" height="8.80" fill="#00ffff"/>
<rect x="514.56" y="75.50" width="8.69" height="8.80" fill="#4dffb2"/>
<rect x="522.85" y="75.50" width="8.69" height="8.80" fill="#80ff80"/>
<rect x="531.14" y="75.50" width="8.69" height="8.80" fill="#ffff00"/>
<rect x="539.43" y="75.50" width="8.69" height="8.80" fill="#ffcc00"/>
<rect x="547.72" y="75.50" width="8.69" height="8.80" fill="#ffb300"/>
<rect x="556.01" y="75.50" width="8.69" height="8.80" fill="#ff4c00"/>
<rect x="564.30" y="75.50" width="8.69" height="8.80" fill="#ff9900"/>
<rect x="572.59" y="75.50" width="16.98" height="8.80" fill="#ffe500"/>
<rect x="589.17" y="75.50" width="8.69" height="8.80" fill="#ffff00"/>
<rect x="597.46" y="75.50" width="8.69" height="8.80" fill="#ffe500"/>
<rect x="605.75" y="75.50" width="16.98" height="8.80" fill="#ffcc00"/>
<rect x="622.33" y="75.50" width="8.69" height="8.80" fill="#ffff00"/>
<rect x="630.62" y="75.50" width="11.69" height="8.80" fill="#e5ff1a"/>
<rect x="390.21" y="83.90" width="16.98" height="8.80" fill="#00ccff"/>
<rect x="406.79" y="83.90" width="16.98" height="8.80" fill="#00b2ff"/>
<rect x="423.37" y="83.90" width="50.14" height="8.80" fill="#0099ff"/>
<rect x="473.11" y="83.90" width="8.69" height="8.80" fill="#00b2ff"/>
<rect x="481.40" y="83.90" width="16.98" height="8.80" fill="#00ccff"/>
<rect x="497.98" y="83.90" width="16.98" height="8.80" fill="#00e5ff"/>
<rect x="514.56" y="83.90" width="8.69" height="8.80" fill="#33ffcc"/>
<rect x="522.85" y="83.90" width="8.69" height="8.80" fill="#66ff99"/>
<rect x="531.14" y="83.90" width="8.69" height="8.80" fill="#e5ff1a"/>
<rect x="539.43" y="83.90" width="8.69" height="8.80" fill="#ffe500"/>
<rect x="547.72" y="83.90" width="8.69" height="8.80" fill="#ffcc00"/>
<rect x="556.01" y="83.90" width="8.69" height="8.80" fill="#ff9900"/>
<rect x="564.30" y="83.90" width="8.69" height="8.80" fill="#ffe500"/>
<rect x="572.59" y="83.90" width="8.69" height="8.80" fill="#ffff00"/>
<rect x="580.88" y="83.90" width="8.69" height="8.80" fill="#ffe500"/>
<rect x="589.17" y="83.90" width="8.69" height="8.80" fill="#e5ff1a"/>
<rect x="597.46" y="83.90" width="16.98" height="8.80" fill="#ffff00"/>
<rect x="614.04" y="83.90" width="16.98" height="8.80" fill="#ccff33"/>
<rect x="630.62" y="83.90" width="11.69" height="8.80" fill="#b3ff4c"/>
<rect x="390.21" y="92.30" width="8.69" height="8.80" fill="#00ccff"/>
<rect x="398.50" y="92.30" width="16.98" height="8.80" fill="#00b2ff"/>
<rect x="415.08" y="92.30" width="16.98" height="8.80" fill="#0099ff"/>
<rect x="431.66" y="92.30" width="8.69" height="8.80" fill="#0080ff"/>
<rect x="439.95" y="92.30" width="33.56" height="8.80" fill="#0099ff"/>
<rect x="473.11" y="92.30" width="8.69" height="8.80" fill="#00b2ff"/>
<rect x="481.40" y="92.30" width="25.27" height="8.80" fill="#00ccff"/>
<rect x="506.27" y="92.30" width="8.69" height="8.80" fill="#00e5ff"/>
<rect x="514.56" y="92.30" width="8.69" height="8.80" fill="#1affe5"/>
<rect x="522.85" y="92.30" width="8.69" height="8.80" fill="#4dffb2"/>
<rect x="531.14" y="92.30" width="8.69" height="8.80" fill="#b3ff4c"/>
<rect x="539.43" y="92.30" width="8.69" height="8.80" fill="#ffff00"/>
<rect x="547.72" y="92.30" width="33.56" height="8.80" fill="#e5ff1a"/>
<rect x="580.88" y="92.30" width="8.69" height="8.80" fill="#ffcc00"/>
<rect x="589.17" y="92.30" width="8.69" height="8.80" fill="#e5ff1a"/>
<rect x="597.46" y="92.30" width="8.69" height="8.80" fill="#ccff33"/>
<rect x="605.75" y="92.30" width="16.98" height="8.80" fill="#b3ff4c"/>
<rect x="622.33" y="92.30" width="19.98" height="8.80" fill="#99ff66"/>
<rect x="390.21" y="100.70" width="8.69" height="8.80" fill="#00b2ff"/>
<rect x="398.50" y="100.70" width="16.98" height="8.80" fill="#0099ff"/>
<rect x="415.08" y="100.70" width="33.56" height="8.80" fill="#0080ff"/>
<rect x="448.24" y="100.70" width="33.56" height="8.80" fill="#0099ff"/>
<rect x="481.40" y="100.70" width="8.69" height="8.80" fill="#00b2ff"/>
<rect x="489.69" y="100.70" width="16.98" height="8.80" fill="#00ccff"/>
<rect x="506.27" y="100.70" width="8.69" height="8.80" fill="#00e5ff"/>
<rect x="514.56" y="100.70" width="8.69" height="8.80" fill="#1affe5"/>
<rect x="522.85" y="100.70" width="8.69" height="8.80" fill="#4dffb2"/>
<rect x="531.14" y="100.70" width="8.69" height="8.80" fill="#66ff99"/>
<rect x="539.43" y="100.70" width="8.69" height="8.80" fill="#80ff80"/>
<rect x="547.72" y="100.70" width="8.69" height="8.80" fill="#b3ff4c"/>
<rect x="556.01" y="100.70" width="16.98" height="8.80" fill="#ccff33"/>
<rect x="572.59" y="100.70" width="8.69" height="8.80" fill="#ffff00"/>
<rect x="580.88" y="100.70" width="8.69" height="8.80" fill="#e5ff1a"/>
<rect x="589.17" y="100.70" width="8.69" height="8.80" fill="#ccff33"/>
<rect x="597.46" y="100.70" width="8.69" height="8.80" fill="#b3ff4c"/>
<rect x="605.75" y="100.70" width="25.27" height="8.80" fill="#99ff66"/>
<rect x="630.62" y="100.70" width="11.69" height="8.80" fill="#80ff80"/>
<rect x="390.21" y="109.10" width="8.69" height="8.80" fill="#00b2ff"/>
<rect x="398.50" y="109.10" width="16.98" height="8.80" fill="#0099ff"/>
<rect x="415.08" y="109.10" width="50.14" height="8.80" fill="#0080ff"/>
<rect x="464.82" y="109.10" width="16.98" height="8.80" fill="#0099ff"/>
<rect x="481.40" y="109.10" width="16.98" height="8.80" fill="#00b2ff"/>
<rect x="497.98" y="109.10" width="8.69" height="8.80" fill="#00ccff"/>
<rect x="506.27" y="109.10" width="8.69" height="8.80" fill="#00e5ff"/>
<rect x="514.56" y="109.10" width="8.69" height="8.80" fill="#1affe5"/>
<rect x="522.85" y="109.10" width="8.69" height="8.80" fill="#33ffcc"/>
<rect x="531.14" y="109.10" width="8.69" height="8.80" fill="#4dffb2"/>
<rect x="539.43" y="109.10" width="8.69" height="8.80" fill="#66ff99"/>
<rect x="547.72" y="109.10" width="8.69" height="8.80" fill="#80ff80"/>
<rect x="556.01" y="109.10" width="8.69" height="8.80" fill="#99ff66"/>
<rect x="564.30" y="109.10" width="8.69" height="8.80" fill="#b3ff4c"/>
<rect x="572.59" y="109.10" width="25.27" height="8.80" fill="#ccff33"/>
<rect x="597.46" y="109.10" width="16.98" height="8.80" fill="#b3ff4c"/>
<rect x="614.04" y="109.10" width="16.98" height="8.80" fill="#99ff66"/>
<rect x="630.62" y="109.10" width="11.69" height="8.80" fill="#80ff80"/>
<rect x="390.21" y="117.50" width="8.69" height="8.80" fill="#00b2ff"/>
<rect x="398.50" y="117.50" width="16.98" height="8.80" fill="#0099ff"/>
<rect x="415.08" y="117.50" width="50.14" height="8.80" fill="#0080ff"/>
<rect x="464.82" y="117.50" width="25.27" height="8.80" fill="#0099ff"/>
<rect x="489.69" y="117.50" width="8.69" height="8.80" fill="#00b2ff"/>
<rect x="497.98" y="117.50" width="8.69" height="8.80" fill="#00ccff"/>
<rect x="506.27" y="117.50" width="8.69" height="8.80" fill="#00e5ff"/>
<rect x="514.56" y="117.50" width="8.69" height="8.80" fill="#00ffff"/>
<rect x="522.85" y="117.50" width="8.69" height="8.80" fill="#1affe5"/>
<rect x="531.14" y="117.50" width="8.69" height="8.80" fill="#4dffb2"/>
<rect x="539.43" y="117.50" width="25.27" height="8.80" fill="#66ff99"/>
<rect x="564.30" y="117.50" width="8.69" height="8.80" fill="#80ff80"/>
<rect x="572.59" y="117.50" width="8.69" height="8.80" fill="#b3ff4c"/>
<rect x="580.88" y="117.50" width="25.27" height="8.80" fill="#ccff33"/>
<rect x="605.75" y="117.50" width="8.69" height="8.80" fill="#b3ff4c"/>
<rect x="614.04" y="117.50" width="8.69" height="8.80" fill="#99ff66"/>
<rect x="622.33" y="117.50" width="19.98" height="8.80" fill="#80ff80"/>
<rect x="390.21" y="125.90" width="8.69" height="8.80" fill="#00b2ff"/>
<rect x="398.50" y="125.90" width="16.98" height="8.80" fill="#0099ff"/>
<rect x="415.08" y="125.90" width="50.14" height="8.80" fill="#0080ff"/>
<rect x="464.82" y="125.90" width="25.27" height="8.80" fill="#0099ff"/>
<rect x="489.69" y="125.90" width="8.69" height="8.80" fill="#00b2ff"/>
<rect x="497.98" y="125.90" width="8.69" height="8.80" fill="#00ccff"/>
<rect x="506.27" y="125.90" width="8.69" height="8.80" fill="#00e5ff"/>
<rect x="514.56" y="125.90" width="8.69" height="8.80" fill="#00ffff"/>
<rect x="522.85" y="125.90" width="8.69" height="8.80" fill="#1affe5"/>
<rect x="531.14" y="125.90" width="8.69" height="8.80" fill="#33ffcc"/>
<rect x="539.43" y="125.90" width="8.69" height="8.80" fill="#4dffb2"/>
<rect x="547.72" y="125.90" width="8.69" height="8.80" fill="#66ff99"/>
<rect x="556.01" y="125.90" width="8.69" height="8.80" fill="#33ffcc"/>
<rect x="564.30" y="125.90" width="8.69" height="8.80" fill="#66ff99"/>
<rect x="572.59" y="125.90" width="8.69" height="8.80" fill="#99ff66"/>
<rect x="580.88" y="125.90" width="8.69" height="8.80" fill="#b3ff4c"/>
<rect x="589.17" y="125.90" width="8.69" height="8.80" fill="#ffff00"/>
<rect x="597.46" y="125.90" width="8.69" height="8.80" fill="#ccff33"/>
<rect x="605.75" y="125.90" width="8.69" height="8.80" fill="#b3ff4c"/>
<rect x="614.04" y="125.90" width="16.98" height="8.80" fill="#99ff66"/>
<rect x="630.62" y="125.90" width="11.69" height="8.80" fill="#80ff80"/>
<rect x="390.21" y="134.30" width="16.98" height="8.80" fill="#00e5ff"/>
<rect x="406.79" y="134.30" width="16.98" height="8.80" fill="#00ccff"/>
<rect x="423.37" y="134.30" width="8.69" height="8.80" fill="#00b2ff"/>
<rect x="431.66" y="134.30" width="66.72" height="8.80" fill="#0099ff"/>
<rect x="497.98" y="134.30" width="8.69" height="8.80" fill="#00b2ff"/>
<rect x="506.27" y="134.30" width="8.69" height="8.80" fill="#00e5ff"/>
<rect x="514.56" y="134.30" width="8.69" height="8.80" fill="#00ffff"/>
<rect x="522.85" y="134.30" width="25.27" height="8.80" fill="#1affe5"/>
<rect x="547.72" y="134.30" width="8.69" height="8.80" fill="#33ffcc"/>
<rect x="556.01" y="134.30" width="8.69" height="8.80" fill="#1affe5"/>
<rect x="564.30" y="134.30" width="8.69" height="8.80" fill="#4dffb2"/>
<rect x="572.59" y="134.30" width="8.69" height="8.80" fill="#80ff80"/>
<rect x="580.88" y="134.30" width="8.69" height="8.80" fill="#b3ff4c"/>
<rect x="589.17" y="134.30" width="16.98" height="8.80" fill="#ccff33"/>
<rect x="605.75" y="134.30" width="8.69" height="8.80" fill="#b3ff4c"/>
<rect x="614.04" y="134.30" width="8.69" height="8.80" fill="#99ff66"/>
<rect x="622.33" y="134.30" width="19.98" height="8.80" fill="#80ff80"/>
<rect x="390.21" y="142.70" width="16.98" height="8.80" fill="#4dffb2"/>
<rect x="406.79" y="142.70" width="8.69" height="8.80" fill="#33ffcc"/>
<rect x="415.08" y="142.70" width="8.69" height="8.80" fill="#1affe5"/>
<rect x="423.37" y="142.70" width="33.56" height="8.80" fill="#00e5ff"/>
<rect x="456.53" y="142.70" width="8.69" height="8.80" fill="#00ccff"/>
<rect x="464.82" y="142.70" width="8.69" height="8.80" fill="#00e5ff"/>
<rect x="473.11" y="142.70" width="25.27" height="8.80" fill="#00ccff"/>
<rect x="497.98" y="142.70" width="8.69" height="8.80" fill="#00e5ff"/>
<rect x="506.27" y="142.70" width="8.69" height="8.80" fill="#00ffff"/>
<rect x="514.56" y="142.70" width="33.56" height="8.80" fill="#1affe5"/>
<rect x="547.72" y="142.70" width="8.69" height="8.80" fill="#33ffcc"/>
<rect x="556.01" y="142.70" width="8.69" height="8.80" fill="#1affe5"/>
<rect x="564.30" y="142.70" width="8.69" height="8.80" fill="#4dffb2"/>
<rect x="572.59" y="142.70" width="8.69" height="8.80" fill="#80ff80"/>
<rect x="580.88" y="142.70" width="8.69" height="8.80" fill="#99ff66"/>
<rect x="589.17" y="142.70" width="16.98" height="8.80" fill="#b3ff4c"/>
<rect x="605.75" y="142.70" width="8.69" height="8.80" fill="#99ff66"/>
<rect x="614.04" y="142.70" width="8.69" height="8.80" fill="#80ff80"/>
<rect x="622.33" y="142.70" width="8.69" height="8.80" fill="#66ff99"/>
<rect x="630.62" y="142.70" width="11.69" height="8.80" fill="#4dffb2"/>
<rect x="390.21" y="151.10" width="8.69" height="8.80" fill="#99ff66"/>
<rect x="398.50" y="151.10" width="8.69" height="8.80" fill="#80ff80"/>
<rect x="406.79" y="151.10" width="8.69" height="8.80" fill="#66ff99"/>
<rect x="415.08" y="151.10" width="16.98" height="8.80" fill="#4dffb2"/>
<rect x="431.66" y="151.10" width="16.98" height="8.80" fill="#33ffcc"/>
<rect x="448.24" y="151.10" width="33.56" height="8.80" fill="#1affe5"/>
<rect x="481.40" y="151.10" width="16.98" height="8.80" fill="#00ffff"/>
<rect x="497.98" y="151.10" width="16.98" height="8.80" fill="#1affe5"/>
<rect x="514.56" y="151.10" width="25.27" height="8.80" fill="#33ffcc"/>
<rect x="539.43" y="151.10" width="8.69" height="8.80" fill="#1affe5"/>
<rect x="547.72" y="151.10" width="8.69" height="8.80" fill="#33ffcc"/>
<rect x="556.01" y="151.10" width="8.69" height="8.80" fill="#1affe5"/>
<rect x="564.30" y="151.10" width="8.69" height="8.80" fill="#4dffb2"/>
<rect x="572.59" y="151.10" width="8.69" height="8.80" fill="#66ff99"/>
<rect x="580.88" y="151.10" width="8.69" height="8.80" fill="#80ff80"/>
<rect x="589.17" y="151.10" width="16.98" height="8.80" fill="#99ff66"/>
<rect x="605.75" y="151.10" width="8.69" height="8.80" fill="#80ff80"/>
<rect x="614.04" y="151.10" width="8.69" height="8.80" fill="#66ff99"/>
<rect x="622.33" y="151.10" width="8.69" height="8.80" fill="#4dffb2"/>
<rect x="630.62" y="151.10" width="11.69" height="8.80" fill="#1affe5"/>
<rect x="390.21" y="159.50" width="16.98" height="8.80" fill="#e5ff1a"/>
<rect x="406.79" y="159.50" width="8.69" height="8.80" fill="#ccff33"/>
<rect x="415.08" y="159.50" width="8.69" height="8.80" fill="#b3ff4c"/>
<rect x="423.37" y="159.50" width="8.69" height="8.80" fill="#99ff66"/>
<rect x="431.66" y="159.50" width="16.98" height="8.80" fill="#66ff99"/>
<rect x="448.24" y="159.50" width="33.56" height="8.80" fill="#4dffb2"/>
<rect x="481.40" y="159.50" width="8.69" height="8.80" fill="#33ffcc"/>
<rect x="489.69" y="159.50" width="16.98" height="8.80" fill="#1affe5"/>
<rect x="506.27" y="159.50" width="50.14" height="8.80" fill="#33ffcc"/>
<rect x="556.01" y="159.50" width="16.98" height="8.80" fill="#4dffb2"/>
<rect x="572.59" y="159.50" width="33.56" height="8.80" fill="#80ff80"/>
<rect x="605.75" y="159.50" width="8.69" height="8.80" fill="#66ff99"/>
<rect x="614.04" y="159.50" width="8.69" height="8.80" fill="#33ffcc"/>
<rect x="622.33" y="159.50" width="8.69" height="8.80" fill="#00ffff"/>
<rect x="630.62" y="159.50" width="11.69" height="8.80" fill="#00e5ff"/>
<rect x="390.21" y="167.90" width="8.69" height="8.80" fill="#b3ff4c"/>
<rect x="398.50" y="167.90" width="8.69" height="8.80" fill="#ffff00"/>
<rect x="406.79" y="167.90" width="16.98" height="8.80" fill="#e5ff1a"/>
<rect x="423.37" y="167.90" width="8.69" height="8.80" fill="#ffff00"/>
<rect x="431.66" y="167.90" width="8.69" height="8.80" fill="#ccff33"/>
<rect x="439.95" y="167.90" width="8.69" height="8.80" fill="#b3ff4c"/>
<rect x="448.24" y="167.90" width="8.69" height="8.80" fill="#99ff66"/>
<rect x="456.53" y="167.90" width="16.98" height="8.80" fill="#80ff80"/>
<rect x="473.11" y="167.90" width="8.69" height="8.80" fill="#66ff99"/>
<rect x="481.40" y="167.90" width="25.27" height="8.80" fill="#4dffb2"/>
<rect x="506.27" y="167.90" width="41.85" height="8.80" fill="#33ffcc"/>
<rect x="547.72" y="167.90" width="8.69" height="8.80" fill="#4dffb2"/>
<rect x="556.01" y="167.90" width="8.69" height="8.80" fill="#66ff99"/>
<rect x="564.30" y="167.90" width="25.27" height="8.80" fill="#80ff80"/>
<rect x="589.17" y="167.90" width="8.69" height="8.80" fill="#99ff66"/>
<rect x="597.46" y="167.90" width="16.98" height="8.80" fill="#80ff80"/>
<rect x="614.04" y="167.90" width="8.69" height="8.80" fill="#4dffb2"/>
<rect x="622.33" y="167.90" width="8.69" height="8.80" fill="#33ffcc"/>
<rect x="630.62" y="167.90" width="11.69" height="8.80" fill="#00e5ff"/>
<rect x="390.21" y="176.30" width="8.69" height="8.80" fill="#b3ff4c"/>
<rect x="398.50" y="176.30" width="8.69" height="8.80" fill="#ffff00"/>
<rect x="406.79" y="176.30" width="8.69" height="8.80" fill="#e5ff1a"/>
<rect x="415.08" y="176.30" width="8.69" height="8.80" fill="#ffff00"/>
<rect x="423.37" y="176.30" width="8.69" height="8.80" fill="#ffcc00"/>
<rect x="431.66" y="176.30" width="8.69" height="8.80" fill="#ffe500"/>
<rect x="439.95" y="176.30" width="8.69" height="8.80" fill="#ffff00"/>
<rect x="448.24" y="176.30" width="8.69" height="8.80" fill="#b3ff4c"/>
<rect x="456.53" y="176.30" width="8.69" height="8.80" fill="#99ff66"/>
<rect x="464.82" y="176.30" width="16.98" height="8.80" fill="#80ff80"/>
<rect x="481.40" y="176.30" width="8.69" height="8.80" fill="#66ff99"/>
<rect x="489.69" y="176.30" width="25.27" height="8.80" fill="#4dffb2"/>
<rect x="514.56" y="176.30" width="16.98" height="8.80" fill="#33ffcc"/>
<rect x="531.14" y="176.30" width="25.27" height="8.80" fill="#4dffb2"/>
<rect x="556.01" y="176.30" width="16.98" height="8.80" fill="#80ff80"/>
<rect x="572.59" y="176.30" width="8.69" height="8.80" fill="#99ff66"/>
<rect x="580.88" y="176.30" width="8.69" height="8.80" fill="#b3ff4c"/>
<rect x="589.17" y="176.30" width="16.98" height="8.80" fill="#ccff33"/>
<rect x="605.75" y="176.30" width="8.69" height="8.80" fill="#b3ff4c"/>
<rect x="614.04" y="176.30" width="8.69" height="8.80" fill="#80ff80"/>
<rect x="622.33" y="176.30" width="8.69" height="8.80" fill="#66ff99"/>
<rect x="630.62" y="176.30" width="11.69" height="8.80" fill="#1affe5"/>
<rect x="390.21" y="184.70" width="8.69" height="8.80" fill="#80ff80"/>
<rect x="398.50" y="184.70" width="8.69" height="8.80" fill="#ffff00"/>
<rect x="406.79" y="184.70" width="8.69" height="8.80" fill="#e5ff1a"/>
<rect x="415.08" y="184.70" width="8.69" height="8.80" fill="#ffff00"/>
<rect x="423.37" y="184.70" width="8.69" height="8.80" fill="#ffe500"/>
<rect x="431.66" y="184.70" width="8.69" height="8.80" fill="#e5ff1a"/>
<rect x="439.95" y="184.70" width="8.69" height="8.80" fill="#ffff00"/>
<rect x="448.24" y="184.70" width="8.69" height="8.80" fill="#ccff33"/>
<rect x="456.53" y="184.70" width="16.98" height="8.80" fill="#b3ff4c"/>
<rect x="473.11" y="184.70" width="8.69" height="8.80" fill="#99ff66"/>
<rect x="481.40" y="184.70" width="8.69" height="8.80" fill="#80ff80"/>
<rect x="489.69" y="184.70" width="8.69" height="8.80" fill="#66ff99"/>
<rect x="497.98" y="184.70" width="33.56" height="8.80" fill="#4dffb2"/>
<rect x="531.14" y="184.70" width="25.27" height="8.80" fill="#66ff99"/>
<rect x="556.01" y="184.70" width="8.69" height="8.80" fill="#80ff80"/>
<rect x="564.30" y="184.70" width="8.69" height="8.80" fill="#99ff66"/>
<rect x="572.59" y="184.70" width="8.69" height="8.80" fill="#b3ff4c"/>
<rect x="580.88" y="184.70" width="8.69" height="8.80" fill="#ccff33"/>
<rect x="589.17" y="184.70" width="16.98" height="8.80" fill="#ffff00"/>
<rect x="605.75" y="184.70" width="8.69" height="8.80" fill="#ccff33"/>
<rect x="614.04" y="184.70" width="8.69" height="8.80" fill="#b3ff4c"/>
<rect x="622.33" y="184.70" width="8.69" height="8.80" fill="#80ff80"/>
<rect x="630.62" y="184.70" width="11.69" height="8.80" fill="#66ff99"/>
<rect x="390.21" y="193.10" width="8.69" height="8.80" fill="#1affe5"/>
<rect x="398.50" y="193.10" width="8.69" height="8.80" fill="#66ff99"/>
<rect x="406.79" y="193.10" width="8.69" height="8.80" fill="#b3ff4c"/>
<rect x="415.08" y="193.10" width="8.69" height="8.80" fill="#ccff33"/>
<rect x="423.37" y="193.10" width="8.69" height="8.80" fill="#ffff00"/>
<rect x="431.66" y="193.10" width="8.69" height="8.80" fill="#e5ff1a"/>
<rect x="439.95" y="193.10" width="16.98" height="8.80" fill="#ffff00"/>
<rect x="456.53" y="193.10" width="25.27" height="8.80" fill="#ccff33"/>
<rect x="481.40" y="193.10" width="8.69" height="8.80" fill="#b3ff4c"/>
<rect x="489.69" y="193.10" width="8.69" height="8.80" fill="#99ff66"/>
<rect x="497.98" y="193.10" width="58.43" height="8.80" fill="#80ff80"/>
<rect x="556.01" y="193.10" width="16.98" height="8.80" fill="#b3ff4c"/>
<rect x="572.59" y="193.10" width="8.69" height="8.80" fill="#ccff33"/>
<rect x="580.88" y="193.10" width="8.69" height="8.80" fill="#ffff00"/>
<rect x="589.17" y="193.10" width="16.98" height="8.80" fill="#e5ff1a"/>
<rect x="605.75" y="193.10" width="8.69" height="8.80" fill="#ffff00"/>
<rect x="614.04" y="193.10" width="8.69" height="8.80" fill="#ccff33"/>
<rect x="622.33" y="193.10" width="8.69" height="8.80" fill="#b3ff4c"/>
<rect x="630.62" y="193.10" width="11.69" height="8.80" fill="#80ff80"/>
<rect x="390.21" y="201.50" width="8.69" height="8.80" fill="#0066ff"/>
<rect x="398.50" y="201.50" width="8.69" height="8.80" fill="#1affe5"/>
<rect x="406.79" y="201.50" width="8.69" height="8.80" fill="#4dffb2"/>
<rect x="415.08" y="201.50" width="8.69" height="8.80" fill="#80ff80"/>
<rect x="423.37" y="201.50" width="8.69" height="8.80" fill="#b3ff4c"/>
<rect x="431.66" y="201.50" width="16.98" height="8.80" fill="#ccff33"/>
<rect x="448.24" y="201.50" width="8.69" height="8.80" fill="#ffff00"/>
<rect x="456.53" y="201.50" width="8.69" height="8.80" fill="#e5ff1a"/>
<rect x="464.82" y="201.50" width="8.69" height="8.80" fill="#ffff00"/>
<rect x="473.11" y="201.50" width="16.98" height="8.80" fill="#ccff33"/>
<rect x="489.69" y="201.50" width="8.69" height="8.80" fill="#b3ff4c"/>
<rect x="497.98" y="201.50" width="16.98" height="8.80" fill="#99ff66"/>
<rect x="514.56" y="201.50" width="8.69" height="8.80" fill="#80ff80"/>
<rect x="522.85" y="201.50" width="8.69" height="8.80" fill="#99ff66"/>
<rect x="531.14" y="201.50" width="8.69" height="8.80" fill="#b3ff4c"/>
<rect x="539.43" y="201.50" width="25.27" height="8.80" fill="#ccff33"/>
<rect x="564.30" y="201.50" width="16.98" height="8.80" fill="#ffff00"/>
<rect x="580.88" y="201.50" width="16.98" height="8.80" fill="#e5ff1a"/>
<rect x="597.46" y="201.50" width="8.69" height="8.80" fill="#ffff00"/>
<rect x="605.75" y="201.50" width="8.69" height="8.80" fill="#ccff33"/>
<rect x="614.04" y="201.50" width="8.69" height="8.80" fill="#b3ff4c"/>
<rect x="622.33" y="201.50" width="8.69" height="8.80" fill="#99ff66"/>
<rect x="630.62" y="201.50" width="11.69" height="8.80" fill="#66ff99"/>
<rect x="390.21" y="209.90" width="8.69" height="8.80" fill="#0099ff"/>
<rect x="398.50" y="209.90" width="8.69" height="8.80" fill="#00b2ff"/>
<rect x="406.79" y="209.90" width="8.69" height="8.80" fill="#0066ff"/>
<rect x="415.08" y="209.90" width="8.69" height="8.80" fill="#00e5ff"/>
<rect x="423.37" y="209.90" width="8.69" height="8.80" fill="#1affe5"/>
<rect x="431.66" y="209.90" width="8.69" height="8.80" fill="#4dffb2"/>
<rect x="439.95" y="209.90" width="8.69" height="8.80" fill="#80ff80"/>
<rect x="448.24" y="209.90" width="16.98" height="8.80" fill="#99ff66"/>
<rect x="464.82" y="209.90" width="8.69" height="8.80" fill="#b3ff4c"/>
<rect x="473.11" y="209.90" width="8.69" height="8.80" fill="#ccff33"/>
<rect x="481.40" y="209.90" width="16.98" height="8.80" fill="#b3ff4c"/>
<rect x="497.98" y="209.90" width="8.69" height="8.80" fill="#99ff66"/>
<rect x="506.27" y="209.90" width="8.69" height="8.80" fill="#80ff80"/>
<rect x="514.56" y="209.90" width="8.69" height="8.80" fill="#99ff66"/>
<rect x="522.85" y="209.90" width="8.69" height="8.80" fill="#b3ff4c"/>
<rect x="531.14" y="209.90" width="8.69" height="8.80" fill="#ccff33"/>
<rect x="539.43" y="209.90" width="8.69" height="8.80" fill="#e5ff1a"/>
<rect x="547.72" y="209.90" width="16.98" height="8.80" fill="#ffe500"/>
<rect x="564.30" y="209.90" width="16.98" height="8.80" fill="#e5ff1a"/>
<rect x="580.88" y="209.90" width="8.69" height="8.80" fill="#ffff00"/>
<rect x="589.17" y="209.90" width="8.69" height="8.80" fill="#ccff33"/>
<rect x="597.46" y="209.90" width="8.69" height="8.80" fill="#b3ff4c"/>
<rect x="605.75" y="209.90" width="8.69" height="8.80" fill="#99ff66"/>
<rect x="614.04" y="209.90" width="8.69" height="8.80" fill="#66ff99"/>
<rect x="622.33" y="209.90" width="8.69" height="8.80" fill="#4dffb2"/>
<rect x="630.62" y="209.90" width="11.69" height="8.80" fill="#00e5ff"/>
<rect x="390.21" y="218.30" width="8.69" height="8.80" fill="#000080"/>
<rect x="398.50" y="218.30" width="8.69" height="8.80" fill="#000099"/>
<rect x="406.79" y="218.30" width="8.69" height="8.80" fill="#0000b2"/>
<rect x="415.08" y="218.30" width="8.69" height="8.80" fill="#0000ff"/>
<rect x="423.37" y="218.30" width="8.69" height="8.80" fill="#001aff"/>
<rect x="431.66" y="218.30" width="8.69" height="8.80" fill="#00b2ff"/>
<rect x="439.95" y="218.30" width="8.69" height="8.80" fill="#1affe5"/>
<rect x="448.24" y="218.30" width="8.69" height="8.80" fill="#4dffb2"/>
<rect x="456.53" y="218.30" width="8.69" height="8.80" fill="#66ff99"/>
<rect x="464.82" y="218.30" width="16.98" height="8.80" fill="#80ff80"/>
<rect x="481.40" y="218.30" width="33.56" height="8.80" fill="#66ff99"/>
<rect x="514.56" y="218.30" width="16.98" height="8.80" fill="#80ff80"/>
<rect x="531.14" y="218.30" width="8.69" height="8.80" fill="#ccff33"/>
<rect x="539.43" y="218.30" width="8.69" height="8.80" fill="#ffff00"/>
<rect x="547.72" y="218.30" width="16.98" height="8.80" fill="#ffe500"/>
<rect x="564.30" y="218.30" width="8.69" height="8.80" fill="#e5ff1a"/>
<rect x="572.59" y="218.30" width="8.69" height="8.80" fill="#ccff33"/>
<rect x="580.88" y="218.30" width="8.69" height="8.80" fill="#b3ff4c"/>
<rect x="589.17" y="218.30" width="8.69" height="8.80" fill="#80ff80"/>
<rect x="597.46" y="218.30" width="8.69" height="8.80" fill="#4dffb2"/>
<rect x="605.75" y="218.30" width="8.69" height="8.80" fill="#00ffff"/>
<rect x="614.04" y="218.30" width="8.69" height="8.80" fill="#0099ff"/>
<rect x="622.33" y="218.30" width="8.69" height="8.80" fill="#004dff"/>
<rect x="630.62" y="218.30" width="11.69" height="8.80" fill="#0000e6"/>
<rect x="390.21" y="226.70" width="16.98" height="8.80" fill="#000080"/>
<rect x="406.79" y="226.70" width="8.69" height="8.80" fill="#0000b2"/>
<rect x="415.08" y="226.70" width="8.69" height="8.80" fill="#0000e6"/>
<rect x="423.37" y="226.70" width="8.69" height="8.80" fill="#001aff"/>
<rect x="431.66" y="226.70" width="8.69" height="8.80" fill="#004dff"/>
<rect x="439.95" y="226.70" width="8.69" height="8.80" fill="#00b2ff"/>
<rect x="448.24" y="226.70" width="8.69" height="8.80" fill="#00e5ff"/>
<rect x="456.53" y="226.70" width="25.27" height="8.80" fill="#1affe5"/>
<rect x="481.40" y="226.70" width="8.69" height="8.80" fill="#33ffcc"/>
<rect x="489.69" y="226.70" width="41.85" height="8.80" fill="#4dffb2"/>
<rect x="531.14" y="226.70" width="25.27" height="8.80" fill="#66ff99"/>
<rect x="556.01" y="226.70" width="8.69" height="8.80" fill="#80ff80"/>
<rect x="564.30" y="226.70" width="16.98" height="8.80" fill="#4dffb2"/>
<rect x="580.88" y="226.70" width="8.69" height="8.80" fill="#00e5ff"/>
<rect x="589.17" y="226.70" width="8.69" height="8.80" fill="#4dffb2"/>
<rect x="597.46" y="226.70" width="8.69" height="8.80" fill="#00e5ff"/>
<rect x="605.75" y="226.70" width="8.69" height="8.80" fill="#00b2ff"/>
<rect x="614.04" y="226.70" width="8.69" height="8.80" fill="#004dff"/>
<rect x="622.33" y="226.70" width="8.69" height="8.80" fill="#001aff"/>
<rect x="630.62" y="226.70" width="11.69" height="8.80" fill="#0000e6"/>
<rect x="390.21" y="235.10" width="50.14" height="8.80" fill="#000080"/>
<rect x="439.95" y="235.10" width="8.69" height="8.80" fill="#00b2ff"/>
<rect x="448.24" y="235.10" width="16.98" height="8.80" fill="#00e5ff"/>
<rect x="464.82" y="235.10" width="16.98" height="8.80" fill="#00ffff"/>
<rect x="481.40" y="235.10" width="33.56" height="8.80" fill="#1affe5"/>
<rect x="514.56" y="235.10" width="8.69" height="8.80" fill="#00ffff"/>
<rect x="522.85" y="235.10" width="8.69" height="8.80" fill="#1affe5"/>
<rect x="531.14" y="235.10" width="8.69" height="8.80" fill="#33ffcc"/>
<rect x="539.43" y="235.10" width="8.69" height="8.80" fill="#0099ff"/>
<rect x="547.72" y="235.10" width="16.98" height="8.80" fill="#1affe5"/>
<rect x="564.30" y="235.10" width="8.69" height="8.80" fill="#00e5ff"/>
<rect x="572.59" y="235.10" width="8.69" height="8.80" fill="#00b2ff"/>
<rect x="580.88" y="235.10" width="8.69" height="8.80" fill="#0080ff"/>
<rect x="589.17" y="235.10" width="8.69" height="8.80" fill="#004dff"/>
<rect x="597.46" y="235.10" width="16.98" height="8.80" fill="#001aff"/>
<rect x="614.04" y="235.10" width="8.69" height="8.80" fill="#0000e6"/>
<rect x="622.33" y="235.10" width="8.69" height="8.80" fill="#0000b2"/>
<rect x="630.62" y="235.10" width="11.69" height="8.80" fill="#000080"/>
<rect x="390.21" y="243.50" width="108.17" height="8.80" fill="#000080"/>
<rect x="497.98" y="243.50" width="16.98" height="8.80" fill="#1affe5"/>
<rect x="514.56" y="243.50" width="8.69" height="8.80" fill="#00ffff"/>
<rect x="522.85" y="243.50" width="8.69" height="8.80" fill="#1affe5"/>
<rect x="531.14" y="243.50" width="8.69" height="8.80" fill="#00ffff"/>
<rect x="539.43" y="243.50" width="8.69" height="8.80" fill="#00b2ff"/>
<rect x="547.72" y="243.50" width="8.69" height="8.80" fill="#0099ff"/>
<rect x="556.01" y="243.50" width="8.69" height="8.80" fill="#00b2ff"/>
<rect x="564.30" y="243.50" width="8.69" height="8.80" fill="#004dff"/>
<rect x="572.59" y="243.50" width="8.69" height="8.80" fill="#001aff"/>
<rect x="580.88" y="243.50" width="16.98" height="8.80" fill="#0000e6"/>
<rect x="597.46" y="243.50" width="8.69" height="8.80" fill="#0000b2"/>
<rect x="605.75" y="243.50" width="16.98" height="8.80" fill="#0000e6"/>
<rect x="622.33" y="243.50" width="8.69" height="8.80" fill="#0000b2"/>
<rect x="630.62" y="243.50" width="11.69" height="8.80" fill="#000080"/>
<rect x="390.21" y="251.90" width="166.20" height="8.80" fill="#000080"/>
<rect x="556.01" y="251.90" width="8.69" height="8.80" fill="#00b2ff"/>
<rect x="564.30" y="251.90" width="8.69" height="8.80" fill="#004dff"/>
<rect x="572.59" y="251.90" width="8.69" height="8.80" fill="#001aff"/>
<rect x="580.88" y="251.90" width="16.98" height="8.80" fill="#0000e6"/>
<rect x="597.46" y="251.90" width="8.69" height="8.80" fill="#0000b2"/>
<rect x="605.75" y="251.90" width="16.98" height="8.80" fill="#0000e6"/>
<rect x="622.33" y="251.90" width="8.69" height="8.80" fill="#0000b2"/>
<rect x="630.62" y="251.90" width="11.69" height="8.80" fill="#000080"/>
</g></g>
<rect x="294" y="5.2" width="4.7" height="250.6" fill="url(#cbg)"/>
<rect x="638.9" y="4.7" width="3.9" height="251.3" fill="url(#cbg)"/>
<circle cx="171.30" cy="130.30" r="111.40" fill="none" stroke="#000" stroke-width="1.3" stroke-dasharray="1.2 1.0"/>
<circle cx="171.30" cy="130.30" r="83.90" fill="none" stroke="#000" stroke-width="1.30"/>
<circle cx="171.30" cy="130.30" r="56.00" fill="none" stroke="#000" stroke-width="1.80"/>
<circle cx="171.30" cy="130.30" r="27.90" fill="none" stroke="#000" stroke-width="1.80"/>
<circle cx="171.30" cy="131.30" r="0.9" fill="#000"/>
<circle cx="518.50" cy="130.40" r="110.40" fill="none" stroke="#000" stroke-width="1.3" stroke-dasharray="1.2 1.0"/>
<circle cx="518.50" cy="130.40" r="82.80" fill="none" stroke="#000" stroke-width="1.30"/>
<circle cx="518.50" cy="130.40" r="55.20" fill="none" stroke="#000" stroke-width="1.80"/>
<circle cx="518.50" cy="130.40" r="27.60" fill="none" stroke="#000" stroke-width="1.80"/>
<circle cx="518.50" cy="131.40" r="0.9" fill="#000"/>
<rect x="45.3" y="5.2" width="253.4" height="250.6" fill="none" stroke="#000" stroke-width="1.3"/>
<rect x="394.3" y="4.7" width="248.4" height="251.3" fill="none" stroke="#000" stroke-width="1.3"/>
<polyline points="45.80,423.50 47.10,423.90 49.40,421.90 50.90,423.50 53.20,423.90 55.50,424.20 57.80,424.50 59.30,423.50 60.80,418.10 62.30,405.90 63.90,394.40 64.90,392.10 66.20,399.80 67.20,412.00 68.50,421.20 70.00,424.20 72.30,425.00 74.60,425.70 76.90,425.00 79.20,425.70 81.50,426.10 83.80,425.70 86.00,425.40 88.30,425.00 90.60,422.70 92.20,421.90 93.70,420.40 94.80,415.00 95.70,410.50 96.40,415.00 97.50,422.70 99.00,425.70 101.30,426.50 103.60,426.10 105.90,427.00 108.20,426.10 111.30,427.00 114.30,426.10 116.60,425.40 118.90,427.30 122.30,427.00 124.60,426.50 126.90,426.10 129.20,426.10 131.00,423.00 133.50,422.40 135.30,423.00 137.10,425.00 139.10,426.10 141.40,427.00 143.70,426.10 146.00,425.40 148.30,425.70 150.60,425.40 152.90,425.00 154.40,422.70 155.30,400.00 155.90,300.00 156.50,150.00 157.30,150.00 158.40,300.00 159.10,400.00 159.80,418.10 161.00,422.70 162.00,425.70 163.60,423.00 165.10,426.10 166.60,427.30 168.60,425.70 170.50,425.00 172.80,424.20 175.00,421.90 177.30,420.40 179.60,419.30 181.20,420.40 183.00,418.10 185.00,415.80 186.50,413.80 188.00,417.30 189.60,418.90 191.10,421.20 193.10,419.60 194.90,418.90 196.50,420.40 198.30,420.40 199.80,423.50 201.40,426.50 203.60,427.00 205.20,425.70 205.90,418.10 206.70,375.30 207.50,345.00 208.20,335.20 208.80,360.00 209.50,418.10 210.50,421.90 211.30,418.10 211.90,393.00 212.80,405.90 214.00,418.10 215.10,421.90 216.60,417.30 218.20,412.80 219.20,414.30 220.50,415.80 221.70,411.20 223.20,405.90 225.10,406.60 226.30,411.20 227.30,405.90 228.60,399.00 229.60,400.50 230.90,410.50 232.20,412.00 233.50,399.80 234.50,394.40 235.80,398.20 237.00,410.50 238.00,414.30 239.30,404.30 240.60,400.10 241.90,402.10 243.40,412.00 244.60,414.30 246.20,405.10 247.70,402.80 249.50,408.90 250.70,415.00 252.30,420.40 254.10,423.50 256.40,425.00 257.90,422.70 259.50,416.60 261.00,413.80 262.50,412.80 263.70,415.80 264.80,420.40 266.30,421.90 267.90,422.70 269.40,425.70 270.90,425.00 272.50,419.60 274.00,413.80 275.50,412.80 277.00,417.30 278.60,418.90 280.10,411.20 281.30,410.50 282.40,412.00 283.50,411.20 284.70,419.60 286.20,418.90 287.70,407.40 289.30,399.00 290.50,395.20 291.60,396.70" fill="none" stroke="#1c8a26" stroke-width="1.6" stroke-linejoin="round" clip-path="url(#cc)"/>
<line x1="58.60" y1="283.60" x2="58.60" y2="430.50" stroke="#000" stroke-width="1.8" stroke-dasharray="3.3 3.75" stroke-dashoffset="1.55"/>
<line x1="69.70" y1="283.60" x2="69.70" y2="430.50" stroke="#000" stroke-width="1.8" stroke-dasharray="3.3 3.75" stroke-dashoffset="1.55"/>
<line x1="204.70" y1="283.60" x2="204.70" y2="430.50" stroke="#000" stroke-width="1.8" stroke-dasharray="3.3 3.75" stroke-dashoffset="1.55"/>
<line x1="211.70" y1="283.60" x2="211.70" y2="430.50" stroke="#000" stroke-width="1.8" stroke-dasharray="3.3 3.75" stroke-dashoffset="1.55"/>
<path d="M45.80 430.50v-4.20M45.80 283.60v4.20M52.84 430.50v-2.60M52.84 283.60v2.60M59.88 430.50v-2.60M59.88 283.60v2.60M66.92 430.50v-2.60M66.92 283.60v2.60M73.96 430.50v-2.60M73.96 283.60v2.60M81.00 430.50v-4.20M81.00 283.60v4.20M88.04 430.50v-2.60M88.04 283.60v2.60M95.08 430.50v-2.60M95.08 283.60v2.60M102.12 430.50v-2.60M102.12 283.60v2.60M109.16 430.50v-2.60M109.16 283.60v2.60M116.20 430.50v-4.20M116.20 283.60v4.20M123.24 430.50v-2.60M123.24 283.60v2.60M130.28 430.50v-2.60M130.28 283.60v2.60M137.32 430.50v-2.60M137.32 283.60v2.60M144.36 430.50v-2.60M144.36 283.60v2.60M151.40 430.50v-4.20M151.40 283.60v4.20M158.44 430.50v-2.60M158.44 283.60v2.60M165.48 430.50v-2.60M165.48 283.60v2.60M172.52 430.50v-2.60M172.52 283.60v2.60M179.56 430.50v-2.60M179.56 283.60v2.60M186.60 430.50v-4.20M186.60 283.60v4.20M193.64 430.50v-2.60M193.64 283.60v2.60M200.68 430.50v-2.60M200.68 283.60v2.60M207.72 430.50v-2.60M207.72 283.60v2.60M214.76 430.50v-2.60M214.76 283.60v2.60M221.80 430.50v-4.20M221.80 283.60v4.20M228.84 430.50v-2.60M228.84 283.60v2.60M235.88 430.50v-2.60M235.88 283.60v2.60M242.92 430.50v-2.60M242.92 283.60v2.60M249.96 430.50v-2.60M249.96 283.60v2.60M257.00 430.50v-4.20M257.00 283.60v4.20M264.04 430.50v-2.60M264.04 283.60v2.60M271.08 430.50v-2.60M271.08 283.60v2.60M278.12 430.50v-2.60M278.12 283.60v2.60M285.16 430.50v-2.60M285.16 283.60v2.60M292.20 430.50v-4.20M292.20 283.60v4.20M45.80 430.50h4.20M292.20 430.50h-4.20M45.80 423.15h2.60M292.20 423.15h-2.60M45.80 415.81h2.60M292.20 415.81h-2.60M45.80 408.46h2.60M292.20 408.46h-2.60M45.80 401.12h2.60M292.20 401.12h-2.60M45.80 393.77h4.20M292.20 393.77h-4.20M45.80 386.43h2.60M292.20 386.43h-2.60M45.80 379.08h2.60M292.20 379.08h-2.60M45.80 371.74h2.60M292.20 371.74h-2.60M45.80 364.39h2.60M292.20 364.39h-2.60M45.80 357.05h4.20M292.20 357.05h-4.20M45.80 349.71h2.60M292.20 349.71h-2.60M45.80 342.36h2.60M292.20 342.36h-2.60M45.80 335.01h2.60M292.20 335.01h-2.60M45.80 327.67h2.60M292.20 327.67h-2.60M45.80 320.33h4.20M292.20 320.33h-4.20M45.80 312.98h2.60M292.20 312.98h-2.60M45.80 305.63h2.60M292.20 305.63h-2.60M45.80 298.29h2.60M292.20 298.29h-2.60M45.80 290.95h2.60M292.20 290.95h-2.60M45.80 283.60h4.20M292.20 283.60h-4.20" stroke="#000" stroke-width="1.3" fill="none"/>
<rect x="45.80" y="283.60" width="246.40" height="146.90" fill="none" stroke="#000" stroke-width="1.4"/>
<text transform="translate(45.80,447.50) scale(1,1.060)" font-size="17.00" fill="#000" text-anchor="middle" >400</text>
<text transform="translate(81.00,447.50) scale(1,1.060)" font-size="17.00" fill="#000" text-anchor="middle" >450</text>
<text transform="translate(116.20,447.50) scale(1,1.060)" font-size="17.00" fill="#000" text-anchor="middle" >500</text>
<text transform="translate(151.40,447.50) scale(1,1.060)" font-size="17.00" fill="#000" text-anchor="middle" >550</text>
<text transform="translate(186.60,447.50) scale(1,1.060)" font-size="17.00" fill="#000" text-anchor="middle" >600</text>
<text transform="translate(221.80,447.50) scale(1,1.060)" font-size="17.00" fill="#000" text-anchor="middle" >650</text>
<text transform="translate(257.00,447.50) scale(1,1.060)" font-size="17.00" fill="#000" text-anchor="middle" >700</text>
<text transform="translate(292.20,447.50) scale(1,1.060)" font-size="17.00" fill="#000" text-anchor="middle" >750</text>
<text transform="translate(39.80,432.70) scale(1,1.020)" font-size="17.00" fill="#000" text-anchor="end" >0</text>
<text transform="translate(39.80,395.97) scale(1,1.020)" font-size="17.00" fill="#000" text-anchor="end" >1</text>
<text transform="translate(39.80,359.25) scale(1,1.020)" font-size="17.00" fill="#000" text-anchor="end" >2</text>
<text transform="translate(39.80,322.53) scale(1,1.020)" font-size="17.00" fill="#000" text-anchor="end" >3</text>
<text transform="translate(39.80,285.80) scale(1,1.020)" font-size="17.00" fill="#000" text-anchor="end" >4</text>
<polyline points="395.00,421.60 396.90,420.40 398.90,422.00 400.80,420.00 402.80,422.00 404.70,421.00 406.70,420.00 408.20,414.10 409.60,398.50 411.10,371.20 412.50,359.50 413.90,361.50 415.00,382.90 416.40,406.30 417.80,418.00 419.30,422.90 422.30,423.90 425.20,424.90 428.10,424.30 431.00,425.90 434.00,424.90 436.90,422.90 439.20,417.10 440.80,414.10 442.20,415.10 443.30,404.40 444.50,394.60 445.70,404.40 446.70,418.00 448.00,423.90 450.60,425.90 453.50,424.90 456.40,425.90 459.30,424.90 462.30,425.90 465.20,421.60 467.10,425.90 470.10,426.80 472.30,425.70 474.60,424.20 476.90,423.90 478.90,419.60 480.40,414.70 481.90,415.40 483.50,415.00 485.00,420.40 486.50,425.00 488.30,425.40 490.60,426.10 492.90,425.00 495.20,423.00 497.50,422.70 499.80,421.90 501.30,418.90 502.10,405.90 502.60,360.00 503.20,150.00 506.20,150.00 506.70,360.00 507.50,401.30 508.50,413.50 509.40,424.20 510.50,421.20 512.00,419.60 513.60,422.70 515.10,424.20 516.60,421.90 518.60,421.90 520.50,420.40 522.80,415.80 524.70,414.30 526.60,409.70 528.10,411.20 529.90,407.40 531.50,402.00 532.70,396.70 534.20,395.20 535.40,399.80 537.00,408.90 538.80,412.00 540.30,418.90 541.90,411.20 543.40,408.20 544.90,408.90 546.50,415.80 548.00,422.70 549.80,424.90 551.50,424.90 553.20,416.70 554.30,384.20 555.40,369.00 556.30,366.80 557.10,395.00 558.00,412.30 559.10,384.20 560.60,395.00 562.30,412.30 564.10,401.50 565.60,395.00 567.10,393.90 568.40,402.60 569.90,382.00 571.40,379.40 572.70,390.70 574.30,371.20 576.00,360.30 577.50,360.30 578.60,390.70 579.70,392.80 580.80,362.50 582.30,353.80 583.60,362.50 584.70,397.20 586.20,386.30 587.70,360.30 589.40,369.00 590.90,405.80 592.70,383.10 594.40,370.10 595.90,373.30 597.40,395.00 599.20,416.70 600.90,418.80 602.40,423.20 603.90,421.00 605.70,408.00 607.80,399.30 609.60,390.70 611.10,403.70 612.60,412.30 614.30,413.40 615.90,419.90 617.60,418.80 619.10,403.70 620.80,392.80 622.60,399.30 624.50,408.00 626.30,401.50 628.00,389.60 629.50,395.00 631.20,403.70 632.80,416.70 634.30,395.00 635.60,363.60 637.10,362.50 638.60,364.70" fill="none" stroke="#1c8a26" stroke-width="1.6" stroke-linejoin="round" clip-path="url(#cd)"/>
<line x1="407.60" y1="283.80" x2="407.60" y2="431.00" stroke="#000" stroke-width="1.8" stroke-dasharray="3.3 3.75" stroke-dashoffset="1.55"/>
<line x1="417.10" y1="283.80" x2="417.10" y2="431.00" stroke="#000" stroke-width="1.8" stroke-dasharray="3.3 3.75" stroke-dashoffset="1.55"/>
<line x1="552.20" y1="283.80" x2="552.20" y2="431.00" stroke="#000" stroke-width="1.8" stroke-dasharray="3.3 3.75" stroke-dashoffset="1.55"/>
<line x1="557.80" y1="283.80" x2="557.80" y2="431.00" stroke="#000" stroke-width="1.8" stroke-dasharray="3.3 3.75" stroke-dashoffset="1.55"/>
<path d="M394.90 431.00v-4.20M394.90 283.80v4.20M401.87 431.00v-2.60M401.87 283.80v2.60M408.84 431.00v-2.60M408.84 283.80v2.60M415.81 431.00v-2.60M415.81 283.80v2.60M422.79 431.00v-2.60M422.79 283.80v2.60M429.76 431.00v-4.20M429.76 283.80v4.20M436.73 431.00v-2.60M436.73 283.80v2.60M443.70 431.00v-2.60M443.70 283.80v2.60M450.67 431.00v-2.60M450.67 283.80v2.60M457.64 431.00v-2.60M457.64 283.80v2.60M464.61 431.00v-4.20M464.61 283.80v4.20M471.59 431.00v-2.60M471.59 283.80v2.60M478.56 431.00v-2.60M478.56 283.80v2.60M485.53 431.00v-2.60M485.53 283.80v2.60M492.50 431.00v-2.60M492.50 283.80v2.60M499.47 431.00v-4.20M499.47 283.80v4.20M506.44 431.00v-2.60M506.44 283.80v2.60M513.41 431.00v-2.60M513.41 283.80v2.60M520.39 431.00v-2.60M520.39 283.80v2.60M527.36 431.00v-2.60M527.36 283.80v2.60M534.33 431.00v-4.20M534.33 283.80v4.20M541.30 431.00v-2.60M541.30 283.80v2.60M548.27 431.00v-2.60M548.27 283.80v2.60M555.24 431.00v-2.60M555.24 283.80v2.60M562.21 431.00v-2.60M562.21 283.80v2.60M569.19 431.00v-4.20M569.19 283.80v4.20M576.16 431.00v-2.60M576.16 283.80v2.60M583.13 431.00v-2.60M583.13 283.80v2.60M590.10 431.00v-2.60M590.10 283.80v2.60M597.07 431.00v-2.60M597.07 283.80v2.60M604.04 431.00v-4.20M604.04 283.80v4.20M611.01 431.00v-2.60M611.01 283.80v2.60M617.99 431.00v-2.60M617.99 283.80v2.60M624.96 431.00v-2.60M624.96 283.80v2.60M631.93 431.00v-2.60M631.93 283.80v2.60M638.90 431.00v-4.20M638.90 283.80v4.20M394.90 431.00h4.20M638.90 431.00h-4.20M394.90 423.64h2.60M638.90 423.64h-2.60M394.90 416.28h2.60M638.90 416.28h-2.60M394.90 408.92h2.60M638.90 408.92h-2.60M394.90 401.56h2.60M638.90 401.56h-2.60M394.90 394.20h4.20M638.90 394.20h-4.20M394.90 386.84h2.60M638.90 386.84h-2.60M394.90 379.48h2.60M638.90 379.48h-2.60M394.90 372.12h2.60M638.90 372.12h-2.60M394.90 364.76h2.60M638.90 364.76h-2.60M394.90 357.40h4.20M638.90 357.40h-4.20M394.90 350.04h2.60M638.90 350.04h-2.60M394.90 342.68h2.60M638.90 342.68h-2.60M394.90 335.32h2.60M638.90 335.32h-2.60M394.90 327.96h2.60M638.90 327.96h-2.60M394.90 320.60h4.20M638.90 320.60h-4.20M394.90 313.24h2.60M638.90 313.24h-2.60M394.90 305.88h2.60M638.90 305.88h-2.60M394.90 298.52h2.60M638.90 298.52h-2.60M394.90 291.16h2.60M638.90 291.16h-2.60M394.90 283.80h4.20M638.90 283.80h-4.20" stroke="#000" stroke-width="1.3" fill="none"/>
<rect x="394.90" y="283.80" width="244.00" height="147.20" fill="none" stroke="#000" stroke-width="1.4"/>
<text transform="translate(394.90,448.00) scale(1,1.060)" font-size="17.00" fill="#000" text-anchor="middle" >400</text>
<text transform="translate(429.76,448.00) scale(1,1.060)" font-size="17.00" fill="#000" text-anchor="middle" >450</text>
<text transform="translate(464.61,448.00) scale(1,1.060)" font-size="17.00" fill="#000" text-anchor="middle" >500</text>
<text transform="translate(499.47,448.00) scale(1,1.060)" font-size="17.00" fill="#000" text-anchor="middle" >550</text>
<text transform="translate(534.33,448.00) scale(1,1.060)" font-size="17.00" fill="#000" text-anchor="middle" >600</text>
<text transform="translate(569.19,448.00) scale(1,1.060)" font-size="17.00" fill="#000" text-anchor="middle" >650</text>
<text transform="translate(604.04,448.00) scale(1,1.060)" font-size="17.00" fill="#000" text-anchor="middle" >700</text>
<text transform="translate(638.90,448.00) scale(1,1.060)" font-size="17.00" fill="#000" text-anchor="middle" >750</text>
<text transform="translate(388.90,433.20) scale(1,1.020)" font-size="17.00" fill="#000" text-anchor="end" >0</text>
<text transform="translate(388.90,396.40) scale(1,1.020)" font-size="17.00" fill="#000" text-anchor="end" >1</text>
<text transform="translate(388.90,359.60) scale(1,1.020)" font-size="17.00" fill="#000" text-anchor="end" >2</text>
<text transform="translate(388.90,322.80) scale(1,1.020)" font-size="17.00" fill="#000" text-anchor="end" >3</text>
<text transform="translate(388.90,286.00) scale(1,1.020)" font-size="17.00" fill="#000" text-anchor="end" >4</text>
<rect x="211.45" y="77.65" width="5.40" height="5.80" fill="none" stroke="#000" stroke-width="1.9"/>
<rect x="236.75" y="111.55" width="5.30" height="5.50" fill="none" stroke="#000" stroke-width="1.9"/>
<line x1="248.60" y1="40.10" x2="220.66" y2="69.56" stroke="#000" stroke-width="1.40"/>
<path d="M215.50 75.00L218.99 65.22L220.21 70.04L225.08 71.00Z" fill="#000"/>
<line x1="278.90" y1="74.30" x2="250.87" y2="102.67" stroke="#000" stroke-width="1.40"/>
<path d="M245.60 108.00L249.29 98.29L250.41 103.13L255.26 104.19Z" fill="#000"/>
<rect x="557.45" y="76.75" width="6.10" height="6.10" fill="none" stroke="#000" stroke-width="1.9"/>
<rect x="582.65" y="110.35" width="5.60" height="5.50" fill="none" stroke="#000" stroke-width="1.9"/>
<line x1="597.50" y1="41.60" x2="571.11" y2="70.01" stroke="#000" stroke-width="1.40"/>
<path d="M566.00 75.50L569.39 65.68L570.66 70.49L575.54 71.40Z" fill="#000"/>
<line x1="621.90" y1="72.80" x2="595.73" y2="101.74" stroke="#000" stroke-width="1.40"/>
<path d="M590.70 107.30L593.96 97.44L595.29 102.23L600.19 103.07Z" fill="#000"/>
<path d="M45.30 18.70h2.2M59.20 5.20v2.2M59.20 255.80v-2.2M45.30 31.10h2.2M73.25 5.20v2.2M73.25 255.80v-2.2M45.30 43.50h2.2M87.30 5.20v2.2M87.30 255.80v-2.2M45.30 55.90h2.2M101.35 5.20v2.2M101.35 255.80v-2.2M45.30 68.30h2.2M115.40 5.20v2.2M115.40 255.80v-2.2M45.30 80.70h2.2M129.45 5.20v2.2M129.45 255.80v-2.2M45.30 93.10h2.2M143.50 5.20v2.2M143.50 255.80v-2.2M45.30 105.50h2.2M157.55 5.20v2.2M157.55 255.80v-2.2M45.30 117.90h2.2M171.60 5.20v2.2M171.60 255.80v-2.2M45.30 130.30h2.2M185.65 5.20v2.2M185.65 255.80v-2.2M45.30 142.70h2.2M199.70 5.20v2.2M199.70 255.80v-2.2M45.30 155.10h2.2M213.75 5.20v2.2M213.75 255.80v-2.2M45.30 167.50h2.2M227.80 5.20v2.2M227.80 255.80v-2.2M45.30 179.90h2.2M241.85 5.20v2.2M241.85 255.80v-2.2M45.30 192.30h2.2M255.90 5.20v2.2M255.90 255.80v-2.2M45.30 204.70h2.2M269.95 5.20v2.2M269.95 255.80v-2.2M45.30 217.10h2.2M284.00 5.20v2.2M284.00 255.80v-2.2M45.30 229.50h2.2M45.30 241.90h2.2" stroke="#000" stroke-width="1" fill="none"/>
<path d="M394.30 18.35h2.2M407.70 4.70v2.2M407.70 256.00v-2.2M394.30 30.80h2.2M421.55 4.70v2.2M421.55 256.00v-2.2M394.30 43.25h2.2M435.40 4.70v2.2M435.40 256.00v-2.2M394.30 55.70h2.2M449.25 4.70v2.2M449.25 256.00v-2.2M394.30 68.15h2.2M463.10 4.70v2.2M463.10 256.00v-2.2M394.30 80.60h2.2M476.95 4.70v2.2M476.95 256.00v-2.2M394.30 93.05h2.2M490.80 4.70v2.2M490.80 256.00v-2.2M394.30 105.50h2.2M504.65 4.70v2.2M504.65 256.00v-2.2M394.30 117.95h2.2M518.50 4.70v2.2M518.50 256.00v-2.2M394.30 130.40h2.2M532.35 4.70v2.2M532.35 256.00v-2.2M394.30 142.85h2.2M546.20 4.70v2.2M546.20 256.00v-2.2M394.30 155.30h2.2M560.05 4.70v2.2M560.05 256.00v-2.2M394.30 167.75h2.2M573.90 4.70v2.2M573.90 256.00v-2.2M394.30 180.20h2.2M587.75 4.70v2.2M587.75 256.00v-2.2M394.30 192.65h2.2M601.60 4.70v2.2M601.60 256.00v-2.2M394.30 205.10h2.2M615.45 4.70v2.2M615.45 256.00v-2.2M394.30 217.55h2.2M629.30 4.70v2.2M629.30 256.00v-2.2M394.30 230.00h2.2M394.30 242.45h2.2" stroke="#000" stroke-width="1" fill="none"/>
<path d="M298.70 17.73h-2M298.70 30.26h-2M298.70 42.79h-2M298.70 55.32h-2M298.70 67.85h-2M298.70 80.38h-2M298.70 92.91h-2M298.70 105.44h-2M298.70 117.97h-2M298.70 130.50h-2M298.70 143.03h-2M298.70 155.56h-2M298.70 168.09h-2M298.70 180.62h-2M298.70 193.15h-2M298.70 205.68h-2M298.70 218.21h-2M298.70 230.74h-2M298.70 243.27h-2" stroke="#000" stroke-width="1" fill="none"/>
<path d="M642.70 13.08h-2M642.70 21.45h-2M642.70 29.83h-2M642.70 38.21h-2M642.70 46.58h-2M642.70 54.96h-2M642.70 63.34h-2M642.70 71.71h-2M642.70 80.09h-2M642.70 88.47h-2M642.70 96.84h-2M642.70 105.22h-2M642.70 113.60h-2M642.70 121.97h-2M642.70 130.35h-2M642.70 138.73h-2M642.70 147.10h-2M642.70 155.48h-2M642.70 163.86h-2M642.70 172.23h-2M642.70 180.61h-2M642.70 188.99h-2M642.70 197.36h-2M642.70 205.74h-2M642.70 214.12h-2M642.70 222.49h-2M642.70 230.87h-2M642.70 239.25h-2M642.70 247.62h-2" stroke="#000" stroke-width="1" fill="none"/>
<text x="4.30" y="28.60" font-size="17.50" fill="#1b3572" text-anchor="start" >(a)</text>
<text x="354.60" y="23.50" font-size="17.50" fill="#1b3572" text-anchor="start" >(b)</text>
<text x="0.00" y="293.30" font-size="17.30" fill="#1b3572" text-anchor="start" >(c)</text>
<text x="350.20" y="296.50" font-size="17.50" fill="#1b3572" text-anchor="start" >(d)</text>
<text x="54.00" y="22.10" font-size="15.20" fill="#ffffff" text-anchor="start" >427.3 nm</text>
<text x="172.00" y="17.20" font-size="14.20" fill="#ffffff" text-anchor="start" >N</text>
<text x="193.00" y="17.20" font-size="14.20" fill="#ffffff" text-anchor="start" >50</text>
<text transform="translate(183.20,45.60) scale(1,1.100)" font-size="15.20" fill="#000" text-anchor="start" >60</text>
<text transform="translate(176.60,71.30) scale(1,1.100)" font-size="15.20" fill="#000" text-anchor="start" >70</text>
<text transform="translate(172.00,99.60) scale(1,1.100)" font-size="15.20" fill="#000" text-anchor="start" >80</text>
<text transform="translate(167.50,127.80) scale(1,1.100)" font-size="15.20" fill="#000" text-anchor="start" >90</text>
<text x="248.90" y="40.10" font-size="15.20" fill="#000" text-anchor="start" >A</text>
<text x="279.60" y="75.80" font-size="15.20" fill="#000" text-anchor="start" >B</text>
<text x="47.60" y="136.00" font-size="15.00" fill="#ffffff" text-anchor="start" >E</text>
<text x="285.80" y="136.70" font-size="15.00" fill="#ffffff" text-anchor="start" >W</text>
<text x="169.60" y="253.80" font-size="15.00" fill="#ffffff" text-anchor="start" >S</text>
<text x="403.60" y="20.90" font-size="15.20" fill="#ffffff" text-anchor="start" >630.6 nm</text>
<text x="514.80" y="16.40" font-size="14.20" fill="#ffffff" text-anchor="start" >N</text>
<text x="538.40" y="16.40" font-size="14.20" fill="#ffffff" text-anchor="start" >50</text>
<text transform="translate(531.40,44.60) scale(1,1.100)" font-size="15.20" fill="#000" text-anchor="start" >60</text>
<text transform="translate(524.40,72.80) scale(1,1.100)" font-size="15.20" fill="#000" text-anchor="start" >70</text>
<text transform="translate(519.30,101.10) scale(1,1.100)" font-size="15.20" fill="#000" text-anchor="start" >80</text>
<text transform="translate(514.90,127.80) scale(1,1.100)" font-size="15.20" fill="#000" text-anchor="start" >90</text>
<text x="597.80" y="38.00" font-size="15.20" fill="#000" text-anchor="start" >A</text>
<text x="620.20" y="71.30" font-size="15.20" fill="#000" text-anchor="start" >B</text>
<text x="396.60" y="135.00" font-size="15.00" fill="#ffffff" text-anchor="start" >E</text>
<text x="628.00" y="136.70" font-size="15.00" fill="#ffffff" text-anchor="start" >W</text>
<text x="516.50" y="253.60" font-size="15.00" fill="#ffffff" text-anchor="start" >S</text>
<text transform="translate(301.60,11.40) scale(1,1.060)" font-size="15.40" fill="#000" text-anchor="start" >2.0</text>
<text transform="translate(301.60,75.20) scale(1,1.060)" font-size="15.40" fill="#000" text-anchor="start" >1.5</text>
<text transform="translate(301.60,137.60) scale(1,1.060)" font-size="15.40" fill="#000" text-anchor="start" >1.0</text>
<text transform="translate(301.60,198.70) scale(1,1.060)" font-size="15.40" fill="#000" text-anchor="start" >0.5</text>
<text transform="translate(301.60,257.90) scale(1,1.060)" font-size="15.40" fill="#000" text-anchor="start" >0</text>
<text transform="translate(646.40,11.40) scale(1,1.060)" font-size="15.40" fill="#000" text-anchor="start" >3.0</text>
<text transform="translate(646.40,53.00) scale(1,1.060)" font-size="15.40" fill="#000" text-anchor="start" >2.5</text>
<text transform="translate(646.40,97.00) scale(1,1.060)" font-size="15.40" fill="#000" text-anchor="start" >2.0</text>
<text transform="translate(646.40,138.40) scale(1,1.060)" font-size="15.40" fill="#000" text-anchor="start" >1.5</text>
<text transform="translate(646.40,179.20) scale(1,1.060)" font-size="15.40" fill="#000" text-anchor="start" >1.0</text>
<text transform="translate(646.40,219.30) scale(1,1.060)" font-size="15.40" fill="#000" text-anchor="start" >0.5</text>
<text transform="translate(646.40,259.40) scale(1,1.060)" font-size="15.40" fill="#000" text-anchor="start" >0</text>
<text transform="translate(334.4,131) rotate(-90)" font-size="14.8" text-anchor="middle" fill="#000">I<tspan font-size="10" dy="3" font-style="italic">λ</tspan><tspan dy="-3"> (kR/nm)</tspan></text>
<text transform="translate(679.6,128) rotate(-90)" font-size="14.8" text-anchor="middle" fill="#000">I<tspan font-size="10" dy="3" font-style="italic">λ</tspan><tspan dy="-3"> (kR/nm)</tspan></text>
<text transform="translate(169.50,465.20) scale(1,1.060)" font-size="17.30" fill="#000" text-anchor="middle" >wavelength (nm)</text>
<text transform="translate(519.30,465.20) scale(1,1.060)" font-size="17.30" fill="#000" text-anchor="middle" >wavelength (nm)</text>
<text transform="translate(14.4,352) rotate(-90)" font-size="17.3" text-anchor="middle" fill="#000">I<tspan font-size="12" dy="3.5" font-style="italic">λ</tspan><tspan dy="-3.5"> (kR/nm)</tspan></text>
<text transform="translate(369.6,359) rotate(-90)" font-size="17.3" text-anchor="middle" fill="#000">I<tspan font-size="12" dy="3.5">l</tspan><tspan dy="-3.5"> (kR/nm)</tspan></text>
<text x="276.00" y="299.80" font-size="15.50" fill="#000" text-anchor="start" >A</text>
<text x="619.60" y="301.10" font-size="15.50" fill="#000" text-anchor="start" >B</text>
<text x="60.00" y="304.40" font-size="11.80" fill="#6c18d8">N<tspan font-size="8.50" dy="3.78">2</tspan><tspan font-size="8.50" dy="-8.50">+</tspan><tspan font-size="11.80" dy="4.72"> 1NG (0,1)</tspan></text>
<text x="72.50" y="321.50" font-size="11.80" fill="#6c18d8" text-anchor="start" >427.8 nm</text>
<text x="77.70" y="361.40" font-size="11.80" fill="#6c18d8">N<tspan font-size="8.50" dy="3.78">2</tspan><tspan font-size="8.50" dy="-8.50">+</tspan><tspan font-size="11.80" dy="4.72"> 1NG (0.2)</tspan></text>
<text x="90.20" y="378.50" font-size="11.80" fill="#6c18d8" text-anchor="start" >470.9 nm</text>
<line x1="64.40" y1="319.70" x2="64.40" y2="369.60" stroke="#6c18d8" stroke-width="1.60"/>
<path d="M58.60 368.60L70.20 368.60L64.40 383.60Z" fill="#6c18d8"/>
<line x1="97.90" y1="384.30" x2="97.90" y2="396.00" stroke="#6c18d8" stroke-width="1.60"/>
<path d="M92.00 395.00L103.80 395.00L97.90 409.00Z" fill="#6c18d8"/>
<text x="231.50" y="303.40" font-size="11.80" fill="#ff0808" text-anchor="start" >O I</text>
<text x="218.50" y="317.20" font-size="11.80" fill="#ff0808" text-anchor="start" >630.0 nm</text>
<line x1="207.70" y1="302.10" x2="207.70" y2="311.00" stroke="#ff0808" stroke-width="2.00"/>
<path d="M202.70 310.00L212.70 310.00L207.70 325.00Z" fill="#ff0808"/>
<text x="229.0" y="383.2" font-size="11.8" fill="#ff0808">N<tspan font-size="8.5" dy="4">2</tspan><tspan dy="-4"> 1PG</tspan></text>
<text x="175.6" y="394.1" font-size="11.8" fill="#1c8a26">O<tspan font-size="8.5" dy="3.8">2</tspan><tspan font-size="8.5" dy="-8.5">+</tspan></text>
<text x="174.80" y="410.50" font-size="11.80" fill="#1c8a26" text-anchor="start" >1NG</text>
<text x="407.60" y="301.10" font-size="11.80" fill="#6c18d8">N<tspan font-size="8.50" dy="3.78">2</tspan><tspan font-size="8.50" dy="-8.50">+</tspan><tspan font-size="11.80" dy="4.72"> 1NG (0,1)</tspan></text>
<text x="419.40" y="318.10" font-size="11.80" fill="#6c18d8" text-anchor="start" >427.8 nm</text>
<text x="428.00" y="342.70" font-size="11.80" fill="#6c18d8">N<tspan font-size="8.50" dy="3.78">2</tspan><tspan font-size="8.50" dy="-8.50">+</tspan><tspan font-size="11.80" dy="4.72"> 1NG (0.2)</tspan></text>
<text x="440.20" y="360.40" font-size="11.80" fill="#6c18d8" text-anchor="start" >470.9 nm</text>
<line x1="412.80" y1="328.30" x2="412.80" y2="334.40" stroke="#6c18d8" stroke-width="1.60"/>
<path d="M407.90 333.40L417.70 333.40L412.80 347.80Z" fill="#6c18d8"/>
<line x1="445.30" y1="365.50" x2="445.30" y2="375.10" stroke="#6c18d8" stroke-width="1.60"/>
<path d="M439.60 374.10L451.00 374.10L445.30 388.40Z" fill="#6c18d8"/>
<text x="574.60" y="307.90" font-size="11.80" fill="#ff0808" text-anchor="start" >O I</text>
<text x="561.50" y="321.50" font-size="11.80" fill="#ff0808" text-anchor="start" >630.0 nm</text>
<line x1="555.80" y1="320.70" x2="555.80" y2="342.90" stroke="#ff0808" stroke-width="2.00"/>
<path d="M551.10 341.90L560.50 341.90L555.80 357.20Z" fill="#ff0808"/>
<text x="567.8" y="345.3" font-size="11.8" fill="#ff0808">N<tspan font-size="8.5" dy="4">2</tspan><tspan dy="-4"> 1PG</tspan></text>
<text x="521.0" y="372.7" font-size="11.8" fill="#1c8a26">O<tspan font-size="8.5" dy="3.8">2</tspan><tspan font-size="8.5" dy="-8.5">+</tspan></text>
<text x="520.00" y="389.20" font-size="11.80" fill="#1c8a26" text-anchor="start" >1NG</text>
</svg></body></html>
